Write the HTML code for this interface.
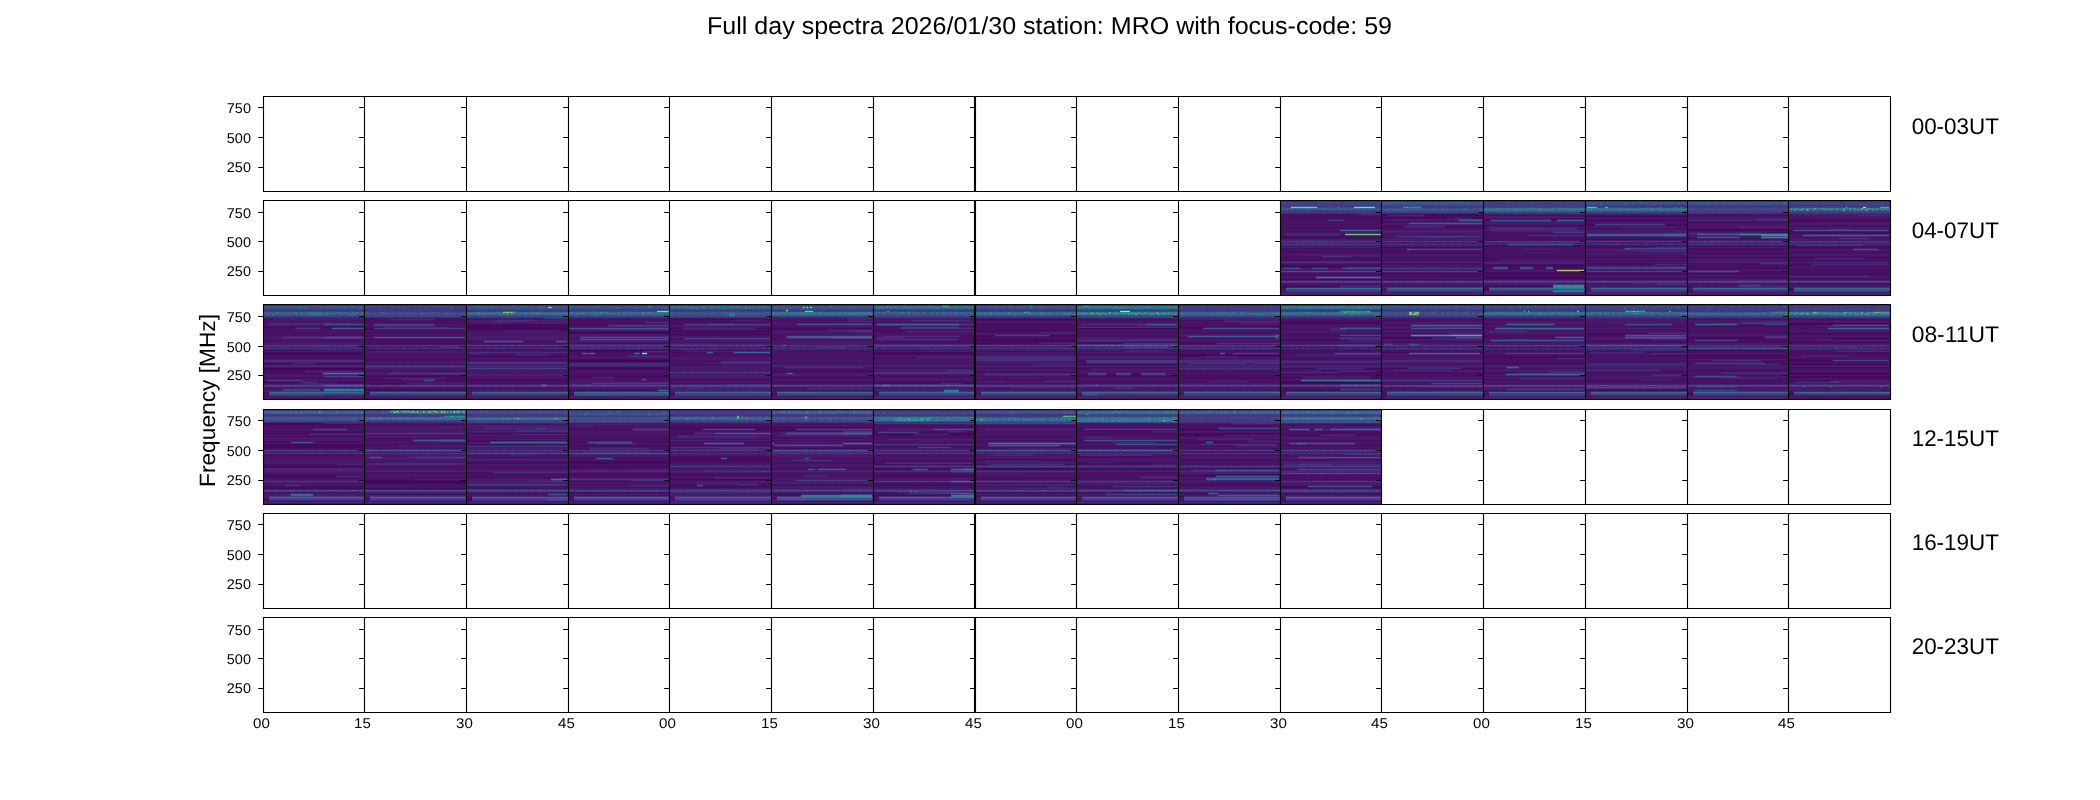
<!DOCTYPE html>
<html><head><meta charset="utf-8"><title>Full day spectra</title>
<style>html,body{margin:0;padding:0;background:#fff;overflow:hidden}svg{display:block;will-change:transform}</style>
</head><body>
<svg width="2100" height="800" viewBox="0 0 2100 800"><rect x="0" y="0" width="2100" height="800" fill="#fff"/><defs><pattern id="p00" width="47" height="1" patternUnits="userSpaceOnUse"><rect x="2" width="2" height="1" fill="#3a538b" fill-opacity="0.94"/><rect x="9" width="1" height="1" fill="#3a538b" fill-opacity="0.62"/><rect x="15" width="1" height="1" fill="#3a538b" fill-opacity="0.90"/><rect x="17" width="2" height="1" fill="#3f4788" fill-opacity="0.62"/><rect x="23" width="1" height="1" fill="#3d4d8a" fill-opacity="0.69"/><rect x="27" width="2" height="1" fill="#3a538b" fill-opacity="1.00"/><rect x="33" width="2" height="1" fill="#3f4788" fill-opacity="0.99"/><rect x="40" width="1" height="1" fill="#424186" fill-opacity="0.79"/><rect x="44" width="1" height="1" fill="#3d4d8a" fill-opacity="0.73"/></pattern><pattern id="p01" width="53" height="1" patternUnits="userSpaceOnUse"><rect x="2" width="3" height="1" fill="#3d4d8a" fill-opacity="0.73"/><rect x="9" width="1" height="1" fill="#3f4788" fill-opacity="0.46"/><rect x="12" width="3" height="1" fill="#3d4d8a" fill-opacity="0.56"/><rect x="19" width="2" height="1" fill="#3f4788" fill-opacity="0.91"/><rect x="22" width="2" height="1" fill="#3d4d8a" fill-opacity="0.93"/><rect x="26" width="3" height="1" fill="#3a538b" fill-opacity="0.80"/><rect x="34" width="2" height="1" fill="#3d4d8a" fill-opacity="0.75"/><rect x="37" width="2" height="1" fill="#3d4d8a" fill-opacity="0.65"/><rect x="44" width="1" height="1" fill="#3f4788" fill-opacity="0.66"/><rect x="46" width="1" height="1" fill="#3d4d8a" fill-opacity="0.90"/><rect x="48" width="2" height="1" fill="#3d4d8a" fill-opacity="0.77"/></pattern><pattern id="p02" width="59" height="1" patternUnits="userSpaceOnUse"><rect x="1" width="2" height="1" fill="#3f4788" fill-opacity="0.82"/><rect x="6" width="2" height="1" fill="#3d4d8a" fill-opacity="0.58"/><rect x="13" width="1" height="1" fill="#3f4788" fill-opacity="0.98"/><rect x="15" width="2" height="1" fill="#3a538b" fill-opacity="0.62"/><rect x="18" width="2" height="1" fill="#3a538b" fill-opacity="0.52"/><rect x="23" width="3" height="1" fill="#3d4d8a" fill-opacity="0.95"/><rect x="28" width="1" height="1" fill="#38598c" fill-opacity="0.56"/><rect x="31" width="2" height="1" fill="#38598c" fill-opacity="0.55"/><rect x="38" width="2" height="1" fill="#3d4d8a" fill-opacity="0.76"/><rect x="45" width="2" height="1" fill="#424186" fill-opacity="0.58"/><rect x="52" width="3" height="1" fill="#3d4d8a" fill-opacity="0.71"/><rect x="58" width="1" height="1" fill="#424186" fill-opacity="0.86"/></pattern><pattern id="p03" width="61" height="1" patternUnits="userSpaceOnUse"><rect x="1" width="3" height="1" fill="#38598c" fill-opacity="0.52"/><rect x="5" width="1" height="1" fill="#3d4d8a" fill-opacity="0.69"/><rect x="10" width="2" height="1" fill="#3d4d8a" fill-opacity="0.64"/><rect x="17" width="1" height="1" fill="#3d4d8a" fill-opacity="0.65"/><rect x="22" width="2" height="1" fill="#3f4788" fill-opacity="0.95"/><rect x="28" width="2" height="1" fill="#3a538b" fill-opacity="0.45"/><rect x="35" width="2" height="1" fill="#3d4d8a" fill-opacity="0.53"/><rect x="42" width="3" height="1" fill="#3a538b" fill-opacity="0.46"/><rect x="50" width="2" height="1" fill="#3a538b" fill-opacity="0.73"/><rect x="56" width="1" height="1" fill="#3d4d8a" fill-opacity="0.56"/><rect x="59" width="1" height="1" fill="#38598c" fill-opacity="0.64"/></pattern><pattern id="p10" width="47" height="1" patternUnits="userSpaceOnUse"><rect x="2" width="2" height="1" fill="#355f8d" fill-opacity="0.64"/><rect x="5" width="3" height="1" fill="#2b748e" fill-opacity="0.69"/><rect x="9" width="2" height="1" fill="#2e6f8e" fill-opacity="0.74"/><rect x="15" width="2" height="1" fill="#32648e" fill-opacity="0.77"/><rect x="22" width="3" height="1" fill="#2e6f8e" fill-opacity="0.68"/><rect x="26" width="1" height="1" fill="#32648e" fill-opacity="0.69"/><rect x="30" width="3" height="1" fill="#2e6f8e" fill-opacity="0.59"/><rect x="37" width="2" height="1" fill="#306a8e" fill-opacity="0.84"/><rect x="44" width="3" height="1" fill="#32648e" fill-opacity="0.63"/></pattern><pattern id="p11" width="53" height="1" patternUnits="userSpaceOnUse"><rect x="0" width="1" height="1" fill="#2e6f8e" fill-opacity="0.57"/><rect x="2" width="3" height="1" fill="#306a8e" fill-opacity="0.51"/><rect x="10" width="3" height="1" fill="#306a8e" fill-opacity="0.78"/><rect x="16" width="1" height="1" fill="#32648e" fill-opacity="0.98"/><rect x="19" width="1" height="1" fill="#355f8d" fill-opacity="0.80"/><rect x="24" width="2" height="1" fill="#306a8e" fill-opacity="0.68"/><rect x="27" width="2" height="1" fill="#38598c" fill-opacity="0.85"/><rect x="34" width="3" height="1" fill="#2e6f8e" fill-opacity="0.89"/><rect x="42" width="3" height="1" fill="#38598c" fill-opacity="0.95"/><rect x="48" width="1" height="1" fill="#355f8d" fill-opacity="0.46"/><rect x="50" width="2" height="1" fill="#32648e" fill-opacity="0.55"/></pattern><pattern id="p12" width="59" height="1" patternUnits="userSpaceOnUse"><rect x="0" width="1" height="1" fill="#355f8d" fill-opacity="0.77"/><rect x="2" width="2" height="1" fill="#355f8d" fill-opacity="0.46"/><rect x="7" width="3" height="1" fill="#2e6f8e" fill-opacity="0.75"/><rect x="13" width="2" height="1" fill="#355f8d" fill-opacity="0.79"/><rect x="19" width="2" height="1" fill="#2e6f8e" fill-opacity="0.47"/><rect x="24" width="3" height="1" fill="#38598c" fill-opacity="0.92"/><rect x="30" width="1" height="1" fill="#38598c" fill-opacity="0.62"/><rect x="33" width="2" height="1" fill="#355f8d" fill-opacity="0.89"/><rect x="39" width="3" height="1" fill="#38598c" fill-opacity="0.89"/><rect x="47" width="2" height="1" fill="#355f8d" fill-opacity="0.94"/><rect x="52" width="2" height="1" fill="#306a8e" fill-opacity="0.80"/><rect x="58" width="1" height="1" fill="#306a8e" fill-opacity="0.81"/></pattern><pattern id="p13" width="61" height="1" patternUnits="userSpaceOnUse"><rect x="2" width="2" height="1" fill="#306a8e" fill-opacity="0.63"/><rect x="9" width="1" height="1" fill="#38598c" fill-opacity="0.94"/><rect x="15" width="1" height="1" fill="#355f8d" fill-opacity="0.81"/><rect x="17" width="1" height="1" fill="#32648e" fill-opacity="0.97"/><rect x="21" width="1" height="1" fill="#306a8e" fill-opacity="0.70"/><rect x="24" width="2" height="1" fill="#38598c" fill-opacity="0.66"/><rect x="27" width="1" height="1" fill="#32648e" fill-opacity="0.91"/><rect x="32" width="1" height="1" fill="#355f8d" fill-opacity="0.75"/><rect x="35" width="2" height="1" fill="#32648e" fill-opacity="0.63"/><rect x="39" width="2" height="1" fill="#306a8e" fill-opacity="0.86"/><rect x="42" width="3" height="1" fill="#306a8e" fill-opacity="0.49"/><rect x="47" width="3" height="1" fill="#38598c" fill-opacity="0.52"/><rect x="51" width="2" height="1" fill="#355f8d" fill-opacity="0.95"/><rect x="54" width="3" height="1" fill="#306a8e" fill-opacity="0.91"/><rect x="59" width="2" height="1" fill="#2e6f8e" fill-opacity="0.69"/></pattern><pattern id="p20" width="47" height="1" patternUnits="userSpaceOnUse"><rect x="2" width="1" height="1" fill="#277e8e" fill-opacity="0.84"/><rect x="7" width="2" height="1" fill="#1f988b" fill-opacity="0.88"/><rect x="14" width="2" height="1" fill="#277e8e" fill-opacity="0.65"/><rect x="18" width="2" height="1" fill="#277e8e" fill-opacity="0.87"/><rect x="22" width="1" height="1" fill="#1f988b" fill-opacity="0.74"/><rect x="27" width="3" height="1" fill="#277e8e" fill-opacity="0.52"/><rect x="31" width="2" height="1" fill="#20928c" fill-opacity="0.80"/><rect x="36" width="3" height="1" fill="#1f988b" fill-opacity="0.97"/><rect x="40" width="2" height="1" fill="#20928c" fill-opacity="0.67"/><rect x="43" width="1" height="1" fill="#1f988b" fill-opacity="0.87"/><rect x="46" width="1" height="1" fill="#23888e" fill-opacity="0.69"/></pattern><pattern id="p21" width="53" height="1" patternUnits="userSpaceOnUse"><rect x="1" width="2" height="1" fill="#218e8d" fill-opacity="0.91"/><rect x="4" width="1" height="1" fill="#20928c" fill-opacity="0.75"/><rect x="7" width="2" height="1" fill="#1e9d89" fill-opacity="0.91"/><rect x="11" width="1" height="1" fill="#1f988b" fill-opacity="0.53"/><rect x="14" width="3" height="1" fill="#20928c" fill-opacity="0.53"/><rect x="22" width="3" height="1" fill="#277e8e" fill-opacity="0.96"/><rect x="30" width="2" height="1" fill="#277e8e" fill-opacity="0.99"/><rect x="33" width="1" height="1" fill="#23888e" fill-opacity="0.77"/><rect x="35" width="3" height="1" fill="#1e9d89" fill-opacity="0.55"/><rect x="42" width="2" height="1" fill="#277e8e" fill-opacity="0.87"/><rect x="46" width="1" height="1" fill="#25838e" fill-opacity="0.47"/><rect x="50" width="1" height="1" fill="#23888e" fill-opacity="0.85"/></pattern><pattern id="p22" width="59" height="1" patternUnits="userSpaceOnUse"><rect x="2" width="1" height="1" fill="#1e9d89" fill-opacity="1.00"/><rect x="5" width="3" height="1" fill="#23888e" fill-opacity="0.59"/><rect x="12" width="1" height="1" fill="#29798e" fill-opacity="0.52"/><rect x="18" width="2" height="1" fill="#277e8e" fill-opacity="0.52"/><rect x="23" width="3" height="1" fill="#277e8e" fill-opacity="0.72"/><rect x="27" width="2" height="1" fill="#218e8d" fill-opacity="0.60"/><rect x="33" width="1" height="1" fill="#20928c" fill-opacity="0.73"/><rect x="37" width="2" height="1" fill="#1f988b" fill-opacity="0.67"/><rect x="40" width="3" height="1" fill="#277e8e" fill-opacity="0.55"/><rect x="45" width="1" height="1" fill="#1e9d89" fill-opacity="0.99"/><rect x="48" width="1" height="1" fill="#25838e" fill-opacity="0.98"/><rect x="53" width="2" height="1" fill="#1e9d89" fill-opacity="0.72"/></pattern><pattern id="p23" width="61" height="1" patternUnits="userSpaceOnUse"><rect x="0" width="2" height="1" fill="#277e8e" fill-opacity="0.78"/><rect x="4" width="2" height="1" fill="#1e9d89" fill-opacity="0.71"/><rect x="8" width="1" height="1" fill="#1f988b" fill-opacity="0.91"/><rect x="13" width="3" height="1" fill="#20928c" fill-opacity="0.92"/><rect x="20" width="3" height="1" fill="#277e8e" fill-opacity="0.62"/><rect x="27" width="1" height="1" fill="#1e9d89" fill-opacity="0.54"/><rect x="32" width="3" height="1" fill="#1e9d89" fill-opacity="0.63"/><rect x="38" width="2" height="1" fill="#277e8e" fill-opacity="0.73"/><rect x="41" width="1" height="1" fill="#1f988b" fill-opacity="0.77"/><rect x="47" width="1" height="1" fill="#20928c" fill-opacity="0.89"/><rect x="50" width="3" height="1" fill="#23888e" fill-opacity="0.97"/><rect x="57" width="1" height="1" fill="#1f988b" fill-opacity="0.83"/></pattern><pattern id="p30" width="47" height="1" patternUnits="userSpaceOnUse"><rect x="2" width="1" height="1" fill="#1fa287" fill-opacity="0.82"/><rect x="4" width="2" height="1" fill="#1e9d89" fill-opacity="0.87"/><rect x="10" width="2" height="1" fill="#5ac864" fill-opacity="0.46"/><rect x="16" width="2" height="1" fill="#3bbb75" fill-opacity="0.67"/><rect x="21" width="2" height="1" fill="#1e9d89" fill-opacity="0.85"/><rect x="28" width="2" height="1" fill="#5ac864" fill-opacity="0.76"/><rect x="34" width="1" height="1" fill="#3bbb75" fill-opacity="0.70"/><rect x="36" width="2" height="1" fill="#32b67a" fill-opacity="0.49"/><rect x="40" width="1" height="1" fill="#50c46a" fill-opacity="0.56"/><rect x="44" width="1" height="1" fill="#44bf70" fill-opacity="0.70"/></pattern><pattern id="p31" width="53" height="1" patternUnits="userSpaceOnUse"><rect x="2" width="1" height="1" fill="#2cb17e" fill-opacity="0.89"/><rect x="6" width="3" height="1" fill="#3bbb75" fill-opacity="0.90"/><rect x="13" width="2" height="1" fill="#32b67a" fill-opacity="0.67"/><rect x="19" width="1" height="1" fill="#25ac82" fill-opacity="0.86"/><rect x="22" width="2" height="1" fill="#2cb17e" fill-opacity="0.87"/><rect x="27" width="1" height="1" fill="#25ac82" fill-opacity="0.90"/><rect x="30" width="1" height="1" fill="#2cb17e" fill-opacity="0.88"/><rect x="36" width="2" height="1" fill="#25ac82" fill-opacity="0.47"/><rect x="42" width="3" height="1" fill="#32b67a" fill-opacity="0.77"/><rect x="50" width="3" height="1" fill="#32b67a" fill-opacity="0.82"/></pattern><pattern id="p32" width="59" height="1" patternUnits="userSpaceOnUse"><rect x="1" width="2" height="1" fill="#22a785" fill-opacity="0.55"/><rect x="7" width="1" height="1" fill="#5ac864" fill-opacity="0.69"/><rect x="11" width="1" height="1" fill="#25ac82" fill-opacity="0.70"/><rect x="14" width="2" height="1" fill="#50c46a" fill-opacity="0.97"/><rect x="21" width="1" height="1" fill="#50c46a" fill-opacity="0.60"/><rect x="24" width="2" height="1" fill="#1e9d89" fill-opacity="0.83"/><rect x="28" width="3" height="1" fill="#2cb17e" fill-opacity="0.62"/><rect x="32" width="1" height="1" fill="#50c46a" fill-opacity="0.68"/><rect x="36" width="3" height="1" fill="#44bf70" fill-opacity="0.71"/><rect x="43" width="2" height="1" fill="#32b67a" fill-opacity="0.66"/><rect x="47" width="1" height="1" fill="#3bbb75" fill-opacity="0.62"/><rect x="53" width="2" height="1" fill="#44bf70" fill-opacity="0.48"/><rect x="58" width="1" height="1" fill="#1e9d89" fill-opacity="0.69"/></pattern><pattern id="p33" width="61" height="1" patternUnits="userSpaceOnUse"><rect x="2" width="2" height="1" fill="#25ac82" fill-opacity="0.80"/><rect x="6" width="1" height="1" fill="#2cb17e" fill-opacity="0.59"/><rect x="11" width="1" height="1" fill="#1fa287" fill-opacity="0.80"/><rect x="15" width="1" height="1" fill="#22a785" fill-opacity="0.61"/><rect x="21" width="1" height="1" fill="#2cb17e" fill-opacity="0.49"/><rect x="24" width="3" height="1" fill="#1fa287" fill-opacity="0.84"/><rect x="31" width="1" height="1" fill="#44bf70" fill-opacity="0.63"/><rect x="33" width="1" height="1" fill="#3bbb75" fill-opacity="0.96"/><rect x="37" width="2" height="1" fill="#44bf70" fill-opacity="0.87"/><rect x="43" width="1" height="1" fill="#2cb17e" fill-opacity="0.59"/><rect x="46" width="1" height="1" fill="#2cb17e" fill-opacity="0.53"/><rect x="50" width="1" height="1" fill="#1fa287" fill-opacity="0.52"/><rect x="55" width="1" height="1" fill="#5ac864" fill-opacity="0.61"/><rect x="57" width="1" height="1" fill="#1fa287" fill-opacity="0.55"/><rect x="59" width="2" height="1" fill="#2cb17e" fill-opacity="0.46"/></pattern><pattern id="p40" width="47" height="1" patternUnits="userSpaceOnUse"><rect x="0" width="1" height="1" fill="#d5e21a" fill-opacity="0.60"/><rect x="4" width="1" height="1" fill="#8ed645" fill-opacity="0.79"/><rect x="10" width="2" height="1" fill="#67cc5c" fill-opacity="0.90"/><rect x="16" width="3" height="1" fill="#c8e020" fill-opacity="0.94"/><rect x="21" width="1" height="1" fill="#b8de29" fill-opacity="0.81"/><rect x="24" width="2" height="1" fill="#f1e51d" fill-opacity="0.57"/><rect x="27" width="3" height="1" fill="#7fd34e" fill-opacity="0.51"/><rect x="32" width="1" height="1" fill="#f1e51d" fill-opacity="0.91"/><rect x="38" width="3" height="1" fill="#c8e020" fill-opacity="0.79"/><rect x="45" width="2" height="1" fill="#f1e51d" fill-opacity="0.76"/></pattern><pattern id="p41" width="53" height="1" patternUnits="userSpaceOnUse"><rect x="1" width="2" height="1" fill="#50c46a" fill-opacity="0.73"/><rect x="5" width="1" height="1" fill="#8ed645" fill-opacity="0.83"/><rect x="10" width="2" height="1" fill="#7fd34e" fill-opacity="0.87"/><rect x="17" width="2" height="1" fill="#67cc5c" fill-opacity="0.52"/><rect x="20" width="1" height="1" fill="#f1e51d" fill-opacity="0.70"/><rect x="23" width="1" height="1" fill="#c8e020" fill-opacity="0.94"/><rect x="26" width="1" height="1" fill="#50c46a" fill-opacity="0.67"/><rect x="32" width="1" height="1" fill="#67cc5c" fill-opacity="0.59"/><rect x="37" width="1" height="1" fill="#73d056" fill-opacity="0.83"/><rect x="42" width="1" height="1" fill="#73d056" fill-opacity="0.97"/><rect x="45" width="2" height="1" fill="#e5e419" fill-opacity="0.52"/><rect x="51" width="2" height="1" fill="#50c46a" fill-opacity="0.73"/></pattern><pattern id="p42" width="59" height="1" patternUnits="userSpaceOnUse"><rect x="1" width="2" height="1" fill="#5ac864" fill-opacity="0.92"/><rect x="4" width="1" height="1" fill="#b8de29" fill-opacity="0.87"/><rect x="10" width="1" height="1" fill="#9bd93c" fill-opacity="0.80"/><rect x="15" width="3" height="1" fill="#d5e21a" fill-opacity="0.61"/><rect x="23" width="2" height="1" fill="#8ed645" fill-opacity="0.86"/><rect x="28" width="2" height="1" fill="#8ed645" fill-opacity="0.83"/><rect x="31" width="1" height="1" fill="#c8e020" fill-opacity="0.98"/><rect x="34" width="1" height="1" fill="#7fd34e" fill-opacity="0.85"/><rect x="40" width="2" height="1" fill="#9bd93c" fill-opacity="0.92"/><rect x="44" width="1" height="1" fill="#5ac864" fill-opacity="0.62"/><rect x="50" width="1" height="1" fill="#67cc5c" fill-opacity="0.60"/><rect x="55" width="1" height="1" fill="#73d056" fill-opacity="0.71"/><rect x="58" width="1" height="1" fill="#73d056" fill-opacity="0.96"/></pattern><pattern id="p43" width="61" height="1" patternUnits="userSpaceOnUse"><rect x="1" width="2" height="1" fill="#5ac864" fill-opacity="0.49"/><rect x="6" width="3" height="1" fill="#d5e21a" fill-opacity="0.71"/><rect x="14" width="1" height="1" fill="#e5e419" fill-opacity="0.78"/><rect x="16" width="3" height="1" fill="#aadc32" fill-opacity="0.45"/><rect x="24" width="1" height="1" fill="#5ac864" fill-opacity="0.87"/><rect x="27" width="1" height="1" fill="#9bd93c" fill-opacity="0.90"/><rect x="30" width="3" height="1" fill="#7fd34e" fill-opacity="0.98"/><rect x="36" width="2" height="1" fill="#67cc5c" fill-opacity="0.67"/><rect x="39" width="1" height="1" fill="#f1e51d" fill-opacity="0.76"/><rect x="41" width="2" height="1" fill="#7fd34e" fill-opacity="0.81"/><rect x="46" width="2" height="1" fill="#b8de29" fill-opacity="0.86"/><rect x="51" width="1" height="1" fill="#67cc5c" fill-opacity="0.75"/><rect x="57" width="2" height="1" fill="#67cc5c" fill-opacity="0.72"/></pattern></defs><g shape-rendering="crispEdges"><g transform="translate(0 .5)" stroke-width="1" fill="none"><path stroke="#440154" d="M1381 217h66M1471 217h13M1687 200h102M1788 231h5M1889 231h2M263 368h102M364 399h103M567 326h2M568 332h102M568 360h102M1177 328h2M1178 355h28M1238 355h43M1788 324h29M364 481h103"/><path stroke="#46085c" d="M1280 200h102M1280 237h102M1280 251h102M1280 265h102M1280 266h66M1280 267h3M1300 267h12M1328 267h14M1280 279h102M1280 286h60M1280 287h6M1381 214h6M1425 214h59M1381 215h6M1425 215h59M1447 217h24M1381 226h23M1445 226h39M1381 247h103M1381 257h103M1482 268h2M1482 269h2M1381 273h103M1381 295h103M1483 219h8M1551 219h6M1584 219h2M1483 225h103M1483 245h25M1573 245h13M1483 259h15M1483 265h103M1483 266h10M1508 266h12M1533 266h13M1553 266h33M1483 268h10M1508 268h12M1533 268h13M1553 268h33M1483 273h103M1483 276h103M1483 277h103M1483 278h103M1483 286h70M1584 286h2M1483 288h6M1483 289h6M1585 216h103M1585 220h103M1585 224h10M1665 224h23M1585 225h10M1665 225h23M1585 239h103M1585 247h40M1585 263h69M1585 264h69M1686 272h2M1585 273h103M1585 279h103M1585 295h103M1687 222h102M1687 229h102M1687 230h102M1687 238h10M1740 238h21M1788 238h1M1687 253h102M1687 257h102M1687 268h102M1687 273h102M1788 220h103M1788 221h103M1788 232h103M1788 247h103M1788 257h26M1866 257h25M1788 264h22M1788 273h103M1788 288h6M263 327h32M320 327h12M364 327h1M263 352h101M263 353h101M263 354h101M263 363h30M316 363h49M263 369h102M263 370h42M263 382h38M338 382h27M263 398h102M263 399h102M364 328h10M465 328h2M364 329h10M465 329h2M364 339h103M364 359h103M364 376h103M364 379h20M445 379h22M364 383h42M364 389h103M364 390h103M364 392h6M364 398h103M466 304h103M466 324h101M466 325h101M466 326h101M466 327h103M466 328h103M466 329h101M466 341h18M523 341h33M567 341h2M466 356h103M466 380h103M568 304h102M568 324h40M669 324h1M568 333h102M568 350h76M568 351h76M568 359h102M568 361h102M568 367h102M568 368h102M568 369h102M568 376h24M614 376h56M568 390h90M669 390h1M568 391h6M669 319h63M762 319h10M669 328h13M756 328h16M669 331h103M669 334h103M669 352h17M770 352h2M669 379h103M771 328h103M771 371h103M873 330h34M873 352h101M873 353h103M873 354h103M873 381h103M873 383h68M962 383h14M873 399h103M975 304h102M975 319h102M975 330h102M975 335h20M1050 335h27M975 336h20M1050 336h27M975 339h101M975 340h101M975 341h101M975 343h64M975 351h102M1076 358h1M1076 328h101M1076 343h47M1076 360h10M1177 360h2M1076 368h15M1076 375h12M1106 375h10M1131 375h10M1166 375h13M1076 376h103M1076 383h5M1178 326h103M1178 327h25M1279 327h2M1178 328h25M1279 328h2M1178 343h39M1178 354h42M1225 354h8M1279 354h2M1206 355h32M1279 368h2M1178 378h103M1280 322h102M1280 323h102M1280 339h60M1280 353h18M1280 368h36M1364 368h18M1376 371h6M1376 372h6M1339 373h43M1280 377h23M1370 377h12M1280 381h21M1280 382h102M1280 383h102M1280 390h60M1381 390h1M1381 304h103M1381 329h30M1482 329h2M1381 337h51M1381 338h51M1381 352h28M1480 352h4M1482 360h2M1482 361h2M1381 368h27M1461 368h23M1381 395h6M1483 341h8M1584 341h2M1483 356h103M1483 357h74M1483 363h103M1483 391h6M1585 304h103M1686 327h2M1686 328h2M1585 334h40M1585 340h65M1585 352h4M1646 352h6M1585 390h103M1687 325h8M1737 325h27M1788 325h1M1687 337h77M1695 338h70M1687 341h8M1737 341h52M1788 349h1M1687 350h102M1687 355h102M1687 357h102M1687 393h6M1788 323h103M1817 324h16M1889 324h2M1803 328h5M1788 334h103M1833 337h56M1833 338h56M1833 339h56M1788 341h29M1788 342h103M1788 359h45M1889 359h2M1788 360h45M1889 360h2M1788 364h103M1788 367h103M1788 372h103M1788 373h103M1788 374h103M1788 376h103M1788 377h103M1788 381h7M1788 394h6M1788 398h103M263 423h60M263 424h102M263 436h102M263 444h101M263 445h101M263 446h101M263 447h101M263 466h102M263 475h73M263 476h73M263 487h102M263 488h102M465 434h2M364 480h51M364 482h103M364 483h103M364 488h103M364 494h103M364 504h103M466 433h51M567 433h2M466 440h34M466 441h24M567 441h2M490 457h40M466 463h103M466 498h6M466 499h6M466 500h6M568 445h102M568 461h102M568 462h102M568 463h102M568 467h102M568 474h102M568 499h6M669 427h103M669 428h34M755 428h17M669 430h34M755 430h17M669 433h25M669 458h52M727 458h45M669 460h103M669 479h103M669 486h28M703 486h69M771 427h103M771 429h25M872 429h2M771 430h25M771 431h10M771 448h103M771 494h30M872 494h2M873 433h5M949 433h27M873 434h41M949 434h27M974 443h2M873 464h12M873 469h40M928 469h23M974 469h2M873 475h103M873 476h103M974 481h2M873 485h103M873 493h25M974 493h2M873 495h78M974 495h2M873 504h103M975 459h102M975 468h102M975 469h102M1076 430h8M1177 430h2M1076 439h8M1177 439h2M1076 457h103M1076 463h13M1113 463h39M1076 469h103M1178 428h40M1279 428h2M1178 429h40M1279 429h2M1178 433h103M1178 434h45M1178 435h45M1178 442h28M1213 442h34M1178 475h38M1279 475h2M1178 485h103M1280 435h40M1356 435h26M1381 474h1M1280 486h28M1372 486h10M1280 487h28M1372 487h10"/><path stroke="#471063" d="M1280 214h79M1280 215h79M1280 216h102M1280 217h102M1280 218h102M1280 219h48M1344 219h38M1280 220h48M1344 220h38M1280 221h48M1344 221h38M1280 222h102M1280 224h102M1280 226h102M1280 227h102M1280 228h102M1280 230h60M1381 230h1M1280 231h60M1381 231h1M1280 233h5M1340 233h5M1381 233h1M1280 234h5M1340 234h5M1381 234h1M1280 235h5M1340 235h5M1381 235h1M1280 236h102M1280 238h102M1280 248h102M1280 249h102M1280 252h102M1280 254h20M1280 256h42M1351 256h4M1280 257h42M1351 257h31M1280 258h102M1280 259h102M1280 260h102M1280 264h102M1346 266h36M1381 270h1M1381 272h1M1280 273h102M1280 274h102M1280 275h102M1280 276h36M1381 276h1M1280 278h36M1381 278h1M1280 284h102M1280 285h60M1280 288h6M1280 289h6M1387 214h38M1381 216h6M1425 216h59M1381 218h66M1471 218h13M1381 219h7M1432 219h15M1381 221h78M1482 221h2M1381 222h28M1482 222h2M1381 225h23M1445 225h39M1381 227h23M1445 227h39M1381 228h103M1381 234h103M1381 237h15M1482 237h2M1381 248h26M1482 248h2M1381 249h26M1482 249h2M1381 250h26M1482 250h2M1381 251h103M1381 252h103M1381 253h103M1381 259h103M1381 260h103M1381 263h103M1381 264h103M1482 267h2M1482 272h2M1381 274h103M1381 275h103M1381 276h103M1381 277h103M1381 279h103M1381 285h103M1483 200h103M1483 215h103M1483 218h103M1483 220h8M1551 220h6M1584 220h2M1483 221h8M1551 221h6M1584 221h2M1483 228h6M1577 228h9M1483 231h7M1483 232h70M1584 232h2M1483 233h70M1584 233h2M1483 234h45M1483 235h45M1483 236h45M1483 237h103M1483 238h103M1483 239h103M1483 240h103M1483 246h103M1483 247h103M1483 248h41M1558 248h28M1483 249h41M1558 249h28M1483 250h103M1483 251h103M1483 253h103M1483 254h103M1483 255h103M1483 256h103M1483 257h103M1483 258h103M1498 259h88M1483 260h15M1483 261h15M1483 264h103M1483 267h10M1508 267h12M1533 267h13M1553 267h33M1483 269h10M1508 269h12M1533 269h13M1553 269h4M1584 269h2M1483 272h103M1483 274h103M1483 275h103M1483 279h103M1483 285h70M1584 285h2M1483 287h6M1483 290h6M1483 295h103M1585 200h103M1585 215h103M1585 217h103M1585 219h103M1585 221h103M1585 223h10M1665 223h23M1585 227h35M1675 227h13M1585 228h35M1675 228h13M1585 229h103M1585 237h103M1585 238h103M1585 245h103M1585 246h71M1585 248h40M1686 248h2M1585 251h33M1585 255h103M1585 256h103M1585 257h103M1585 258h103M1585 260h103M1585 261h103M1654 263h34M1686 269h2M1686 270h2M1686 271h2M1585 274h103M1585 275h103M1585 277h103M1585 278h103M1585 283h47M1585 290h6M1585 294h103M1687 214h102M1687 215h102M1687 217h102M1788 221h1M1687 226h52M1687 228h102M1687 231h102M1687 232h2M1761 232h28M1687 233h2M1788 233h1M1687 237h10M1740 237h21M1788 237h1M1687 239h102M1687 246h102M1687 248h102M1687 249h102M1687 250h102M1687 252h102M1687 263h73M1687 264h73M1687 265h102M1687 266h102M1687 267h102M1739 271h50M1739 272h50M1687 274h102M1687 276h102M1687 277h102M1687 278h102M1687 284h52M1761 284h28M1687 286h52M1687 287h6M1687 290h6M1687 291h6M1687 292h6M1687 294h102M1788 200h103M1788 218h103M1788 219h103M1788 225h103M1788 226h103M1788 229h5M1889 229h2M1788 230h5M1889 230h2M1788 233h103M1788 234h15M1889 234h2M1788 237h51M1870 237h21M1788 245h8M1862 245h29M1788 246h103M1788 248h65M1878 248h13M1788 251h103M1788 252h103M1788 253h103M1788 256h103M1814 257h52M1788 258h26M1866 258h25M1788 259h26M1866 259h25M1788 260h103M1788 261h103M1788 263h22M1788 265h22M1788 266h103M1788 268h103M1788 269h103M1788 270h103M1788 271h103M1788 272h103M1788 274h103M1788 275h103M1788 278h103M1788 279h103M1788 283h103M1788 284h103M1788 287h6M1788 289h6M1788 290h6M1788 291h6M263 304h102M263 318h11M263 319h11M263 321h102M263 323h5M364 323h1M263 325h5M320 325h4M364 325h1M263 326h102M263 328h32M320 328h12M364 328h1M263 329h32M320 329h12M364 329h1M263 330h102M263 332h102M263 333h102M263 334h102M263 335h102M263 340h102M263 341h102M263 350h47M263 355h102M263 357h102M263 358h102M364 359h1M364 360h1M364 361h1M263 364h30M316 364h49M263 367h102M305 370h60M263 371h42M263 372h42M263 373h60M364 373h1M263 374h60M364 374h1M263 377h61M364 377h1M263 378h102M263 381h5M318 381h47M318 382h20M263 383h38M338 383h27M263 388h20M320 388h4M364 388h1M263 392h6M263 395h6M263 396h6M364 318h26M435 318h32M364 319h26M435 319h32M364 320h26M435 320h32M364 321h103M364 322h103M364 323h10M434 323h33M364 326h10M434 326h33M364 327h10M465 327h2M364 330h103M364 331h103M364 332h103M364 333h103M364 335h103M364 336h10M465 336h2M364 340h103M364 341h103M364 342h103M364 343h103M364 344h103M364 349h103M364 350h103M364 354h103M364 356h103M364 358h103M364 360h103M364 364h103M364 370h103M364 371h30M431 371h36M364 375h103M364 377h20M445 377h22M364 378h20M445 378h22M384 379h18M436 379h9M364 380h38M436 380h31M364 381h60M434 381h33M364 382h42M364 384h42M364 388h103M364 391h6M364 393h6M364 395h6M364 396h6M466 319h32M537 319h7M567 325h2M567 329h2M466 330h39M557 330h12M466 331h39M557 331h12M466 343h103M466 349h103M466 350h103M466 354h4M485 354h32M550 354h19M466 355h51M550 355h19M466 357h103M466 359h103M466 360h103M567 362h2M567 363h2M567 367h2M567 369h2M466 376h103M466 378h103M466 379h103M466 381h103M466 382h103M466 383h103M466 388h103M466 389h103M466 391h6M466 396h6M466 398h103M466 399h103M568 319h102M568 320h102M568 321h78M568 322h78M568 323h78M568 325h40M568 326h40M669 327h1M568 331h102M568 339h12M568 342h102M568 343h102M568 349h102M644 350h26M568 352h14M587 352h1M595 352h39M640 352h2M568 353h14M587 353h1M595 353h39M640 353h2M647 353h23M568 354h14M587 354h1M595 354h39M640 354h2M647 354h23M568 355h59M669 364h1M568 372h102M568 374h102M568 375h102M592 376h22M568 377h24M614 377h56M568 378h24M614 378h28M646 378h24M568 380h74M646 380h24M568 389h90M669 389h1M568 392h6M568 393h6M568 394h6M568 395h6M568 398h102M568 399h102M669 304h103M669 318h103M732 319h30M669 320h63M762 320h10M669 321h103M669 322h103M669 323h15M770 323h2M669 324h15M770 324h2M669 327h13M756 327h16M669 329h13M756 329h16M669 330h103M669 332h103M669 333h103M669 335h103M669 338h15M770 338h2M669 339h15M770 339h2M669 342h103M669 350h17M707 350h65M669 351h17M770 351h2M686 352h21M713 352h21M669 353h38M713 353h21M770 353h2M669 354h103M669 355h103M669 356h103M669 360h103M669 361h52M770 361h2M669 363h40M770 363h2M669 364h52M770 364h2M669 365h103M669 380h103M669 382h103M669 383h103M669 393h6M669 394h6M669 395h6M771 318h76M771 320h76M771 322h76M870 322h4M872 323h2M771 325h26M872 325h2M771 327h103M771 329h58M771 330h58M771 333h103M771 335h16M872 335h2M771 337h16M872 337h2M771 338h16M872 338h2M771 340h103M771 351h103M771 353h103M771 355h103M771 356h103M771 357h103M771 359h103M771 362h103M771 363h103M771 367h13M863 367h11M771 368h13M863 368h11M771 369h103M771 370h103M771 372h16M793 372h81M771 376h103M771 377h103M771 378h103M771 381h103M771 382h103M771 383h103M771 387h38M771 388h38M771 390h103M771 391h6M771 393h6M771 394h6M771 395h6M771 399h103M873 304h103M873 319h39M969 319h7M873 322h103M873 326h28M959 326h17M873 327h28M873 328h28M873 329h28M907 330h69M873 331h34M873 332h34M873 333h103M873 335h10M960 335h16M873 336h4M960 336h16M873 337h4M960 337h16M873 338h4M958 338h18M873 339h4M958 339h18M873 340h4M958 340h18M873 341h103M873 342h103M873 343h103M873 350h52M873 357h44M873 358h44M873 362h103M873 363h103M873 367h103M873 368h103M974 372h2M974 373h2M974 374h2M873 375h103M873 376h103M873 377h103M873 382h103M873 391h6M873 392h6M975 318h102M975 320h102M975 323h102M975 324h102M975 325h102M975 326h102M975 327h102M975 328h102M975 329h102M975 331h102M975 332h65M975 337h102M975 338h102M1076 339h1M1076 340h1M975 342h64M975 354h102M1076 356h1M1076 357h1M975 364h58M975 365h58M975 367h102M975 368h102M975 371h102M975 372h102M975 376h102M975 378h102M975 379h102M975 380h69M975 383h102M975 388h36M975 389h102M975 392h6M975 393h6M975 394h6M975 398h102M975 399h102M1076 319h103M1076 320h103M1076 321h103M1076 324h5M1076 325h5M1076 329h103M1076 331h103M1076 332h103M1076 333h103M1076 335h103M1076 336h103M1177 341h2M1076 342h47M1076 351h50M1164 351h15M1076 353h103M1076 354h103M1076 355h103M1076 359h10M1177 359h2M1076 361h10M1177 361h2M1076 362h10M1177 362h2M1076 363h10M1177 363h2M1076 364h103M1076 365h103M1076 367h103M1091 368h88M1076 369h15M1076 370h103M1076 373h12M1106 373h10M1131 373h10M1166 373h13M1076 374h12M1106 374h10M1131 374h10M1166 374h13M1076 377h103M1076 378h103M1076 380h103M1076 381h103M1076 382h103M1081 383h98M1076 388h38M1132 388h47M1076 390h103M1076 394h6M1076 395h6M1076 398h103M1076 399h103M1178 320h46M1178 321h46M1178 323h62M1178 324h103M1178 330h103M1178 332h103M1178 333h103M1178 337h10M1279 337h2M1178 338h97M1279 338h2M1178 341h103M1178 342h39M1178 344h39M1178 350h103M1178 351h103M1178 352h42M1225 352h8M1279 352h2M1178 353h42M1225 353h8M1279 353h2M1178 356h28M1238 356h43M1279 359h2M1279 369h2M1178 371h103M1178 372h103M1178 374h103M1178 375h103M1178 376h103M1178 377h103M1178 380h32M1247 380h34M1178 382h32M1247 382h34M1178 390h103M1178 399h103M1280 320h102M1280 321h102M1280 325h102M1280 329h50M1381 329h1M1280 333h102M1280 334h60M1381 334h1M1280 335h60M1381 335h1M1280 336h60M1381 336h1M1381 339h1M1280 340h70M1280 341h70M1280 343h102M1280 347h102M1280 349h102M1280 350h102M1280 351h102M1280 352h55M1381 352h1M1298 353h37M1381 353h1M1280 355h18M1280 357h102M1280 358h102M1280 359h102M1381 362h1M1280 363h102M1280 369h36M1364 369h18M1280 370h25M1321 370h17M1376 370h6M1280 371h25M1321 371h17M1339 372h37M1280 373h59M1280 374h102M1280 375h102M1280 376h23M1370 376h12M1280 378h23M1370 378h12M1280 380h21M1381 381h1M1280 388h60M1381 388h1M1280 389h60M1381 389h1M1280 391h6M1280 392h6M1280 393h6M1280 394h6M1280 395h6M1280 399h102M1381 319h103M1381 320h103M1381 321h52M1476 321h8M1381 324h30M1482 324h2M1381 325h30M1482 325h2M1381 332h67M1381 333h67M1381 334h30M1482 334h2M1381 336h30M1482 336h2M1432 337h24M1482 337h2M1381 341h103M1381 342h103M1381 351h103M1381 353h28M1480 353h4M1381 356h103M1482 362h2M1381 364h103M1381 369h27M1461 369h23M1381 370h12M1451 370h6M1381 372h103M1381 373h103M1381 374h103M1381 375h103M1381 376h103M1381 378h103M1482 379h2M1482 381h2M1381 383h50M1482 383h2M1381 384h50M1482 384h2M1381 388h103M1381 389h103M1381 391h6M1381 392h6M1381 393h6M1381 394h6M1381 396h6M1483 304h103M1483 319h103M1483 320h103M1483 322h22M1483 323h22M1483 324h23M1554 324h32M1483 327h12M1584 327h2M1483 328h12M1483 331h6M1527 331h59M1483 334h103M1483 335h103M1483 336h72M1584 336h2M1483 337h72M1584 337h2M1483 338h26M1526 338h29M1584 338h2M1483 347h103M1483 351h103M1483 353h22M1584 353h2M1483 354h22M1584 354h2M1483 355h103M1557 357h29M1483 358h74M1483 359h74M1483 360h103M1483 361h103M1483 362h103M1483 364h103M1483 367h23M1519 367h67M1483 368h23M1519 368h67M1483 372h35M1483 373h23M1483 374h23M1483 376h103M1483 379h37M1483 380h103M1483 382h103M1483 390h23M1584 390h2M1483 392h6M1483 394h6M1483 395h6M1483 399h103M1585 324h40M1672 324h16M1585 325h40M1672 325h16M1585 327h101M1585 329h103M1585 330h103M1585 332h63M1585 333h63M1686 334h2M1585 335h40M1686 335h2M1585 336h40M1686 336h2M1650 340h38M1585 341h103M1585 342h103M1585 351h46M1646 351h42M1652 352h36M1585 355h103M1585 356h103M1585 357h103M1585 359h103M1585 360h103M1585 361h103M1686 363h2M1585 370h1M1661 370h27M1585 371h1M1661 371h27M1585 372h103M1585 373h103M1585 375h67M1681 375h7M1585 379h53M1673 379h15M1585 380h53M1673 380h15M1585 381h103M1585 382h103M1585 389h103M1585 391h6M1585 395h6M1585 396h6M1687 304h102M1687 319h102M1687 323h8M1687 324h8M1764 325h24M1687 326h102M1687 327h102M1687 328h102M1687 330h102M1687 331h102M1687 332h102M1687 333h102M1687 336h77M1788 337h1M1687 338h8M1788 338h1M1687 339h8M1737 339h52M1687 340h8M1737 340h52M1687 342h102M1687 351h102M1687 352h102M1687 354h102M1687 356h102M1687 358h102M1687 360h25M1761 360h28M1687 361h25M1761 361h28M1687 362h8M1765 362h24M1687 363h8M1765 363h24M1687 364h8M1780 364h9M1687 365h102M1687 369h102M1687 370h102M1687 371h102M1687 374h36M1687 375h8M1737 375h52M1687 378h34M1777 378h12M1687 379h102M1687 380h102M1687 381h102M1687 382h102M1687 383h102M1687 392h6M1687 394h6M1687 395h6M1687 399h102M1788 304h103M1788 319h103M1788 320h103M1788 322h103M1788 325h29M1788 326h29M1788 327h40M1889 327h2M1788 329h40M1889 329h2M1788 332h103M1788 333h103M1788 337h45M1788 338h45M1788 340h29M1817 341h74M1788 343h103M1788 351h48M1788 352h103M1788 353h103M1788 354h103M1788 355h13M1849 355h42M1788 356h13M1849 356h42M1788 358h103M1788 361h45M1889 361h2M1788 362h103M1788 363h103M1788 368h103M1788 369h103M1788 378h25M1832 378h59M1788 379h103M1788 380h42M1795 381h35M1788 382h7M1788 391h6M1788 392h6M1788 393h6M1788 395h6M1788 396h103M263 425h102M263 426h102M263 427h102M263 428h50M347 428h18M263 430h50M347 430h18M263 431h102M263 432h102M263 433h46M263 434h46M263 441h28M313 441h52M263 442h28M313 442h52M364 445h1M263 448h102M263 454h102M263 455h102M263 456h102M263 458h102M263 464h75M263 465h102M263 467h102M364 468h1M263 473h102M336 475h29M263 477h73M263 478h102M263 485h22M300 485h65M263 486h22M300 486h65M263 492h102M263 498h6M263 499h6M263 500h6M263 503h102M263 504h102M364 409h103M364 424h103M364 425h103M465 433h2M364 438h103M364 439h47M364 440h47M364 443h103M364 444h103M364 445h33M466 445h1M364 446h33M466 446h1M364 448h103M364 462h11M462 462h5M364 466h103M364 468h103M364 472h103M364 473h103M364 477h103M364 478h103M364 479h51M415 480h52M364 485h103M364 487h103M364 498h6M364 499h6M364 500h6M567 423h2M466 424h103M517 433h50M466 436h103M466 438h103M500 440h69M466 444h103M567 454h2M466 455h43M535 455h34M466 457h24M530 457h39M466 461h103M466 462h103M466 466h103M466 467h103M466 468h103M466 472h28M466 473h28M466 474h103M466 475h103M466 476h103M466 477h103M466 478h85M567 478h2M567 483h2M466 487h103M466 488h103M466 493h82M567 493h2M466 494h82M567 494h2M466 496h6M466 497h6M466 504h103M568 409h102M568 426h5M593 426h77M568 428h65M669 428h1M568 429h65M669 429h1M568 430h65M669 430h1M568 436h102M568 437h102M568 438h102M568 439h102M568 440h102M568 441h20M632 441h38M568 442h20M635 442h35M568 443h20M635 443h35M568 446h102M568 447h22M649 447h21M568 448h22M649 448h21M669 452h1M568 457h28M613 457h57M568 458h28M613 458h57M568 460h102M568 464h102M568 465h102M568 466h102M568 468h102M568 473h102M568 475h102M568 476h102M568 477h102M568 481h63M568 482h102M568 484h63M568 485h63M568 487h102M568 492h102M568 493h102M568 495h102M568 496h6M568 497h6M568 504h102M669 409h103M669 424h103M669 425h103M669 426h103M669 429h34M755 429h17M669 432h25M669 434h25M669 439h103M669 441h103M669 442h35M744 442h28M669 443h35M744 443h28M669 444h35M744 444h28M669 445h103M669 446h42M770 446h2M669 456h103M669 457h52M727 457h45M669 459h52M727 459h45M669 461h103M669 462h103M669 463h103M770 465h2M770 466h2M770 467h2M669 473h103M669 474h103M669 475h103M669 476h103M669 478h46M669 480h103M669 483h27M758 483h14M669 484h27M758 484h14M669 485h28M703 485h36M758 485h14M669 487h103M669 497h6M771 424h103M771 426h103M771 428h25M872 428h2M872 430h2M781 431h62M771 432h10M771 435h6M868 435h6M771 436h6M868 436h6M771 437h103M771 438h103M771 440h103M774 442h18M828 442h15M872 442h2M872 444h2M771 445h3M843 445h31M771 446h3M843 446h31M771 447h103M771 458h34M809 458h65M771 462h103M771 463h103M771 467h103M771 468h37M815 468h3M846 468h28M771 469h37M815 469h3M846 469h28M771 473h103M771 475h32M828 475h46M771 476h32M828 476h46M771 484h103M771 485h103M771 493h103M771 495h30M872 495h2M771 497h6M771 498h6M771 501h103M771 503h103M974 423h2M974 424h2M873 425h103M873 426h103M873 427h103M873 430h17M974 430h2M873 431h5M918 431h29M966 431h10M873 432h5M918 432h29M966 432h10M918 433h31M873 435h103M873 436h103M873 437h103M873 439h13M873 442h103M974 444h2M873 446h45M951 446h25M873 447h45M951 447h25M873 455h103M873 456h103M873 459h103M873 460h103M873 461h103M873 462h12M873 463h12M885 464h91M974 466h2M974 467h2M873 468h40M928 468h23M974 468h2M873 473h103M873 474h103M873 477h103M974 480h2M873 483h103M873 484h103M873 487h103M898 493h11M873 494h36M974 494h2M873 496h6M873 499h6M873 500h6M975 425h102M975 426h102M975 427h102M975 429h10M1076 429h1M975 432h102M975 435h102M975 437h102M975 440h102M975 441h102M975 442h13M975 443h13M975 446h14M1060 446h17M975 447h102M975 448h32M975 460h11M1041 460h36M975 464h15M1064 464h13M1076 465h1M1076 466h1M975 473h2M1025 473h52M975 474h2M1025 474h52M975 476h102M975 477h102M975 478h102M975 479h102M1076 480h1M1076 481h1M1076 482h1M975 483h102M975 486h72M1063 486h14M975 492h102M975 493h102M975 495h102M975 496h6M975 497h6M975 500h6M975 501h102M975 503h102M975 504h102M1076 424h103M1076 425h103M1076 427h103M1076 428h8M1177 428h2M1076 429h8M1177 429h2M1084 430h68M1076 431h76M1076 432h76M1076 433h103M1076 434h103M1076 435h103M1076 437h8M1110 437h69M1076 440h8M1177 440h2M1076 441h8M1177 441h2M1076 442h36M1157 442h22M1076 443h36M1177 443h2M1076 445h40M1177 445h2M1076 446h103M1076 447h103M1076 448h103M1076 455h4M1152 455h27M1076 456h103M1076 462h13M1113 462h66M1089 463h24M1152 463h27M1076 464h76M1076 468h103M1076 472h103M1076 473h103M1076 474h103M1076 476h63M1076 477h63M1076 478h63M1076 479h103M1076 485h37M1076 486h37M1076 487h37M1076 488h103M1076 492h103M1076 493h30M1177 493h2M1076 496h6M1076 498h6M1076 499h6M1076 500h6M1076 504h103M1178 409h103M1178 424h54M1178 425h103M1178 426h103M1178 430h103M1223 434h58M1178 436h45M1178 439h19M1253 439h28M1178 440h69M1178 441h28M1213 441h34M1247 442h34M1178 443h23M1275 443h6M1178 444h23M1277 444h4M1178 446h58M1277 446h4M1178 448h103M1178 452h103M1178 455h103M1178 459h103M1178 460h103M1178 461h103M1178 463h103M1178 464h103M1178 468h103M1178 469h15M1279 469h2M1178 474h103M1178 476h38M1279 476h2M1178 479h28M1279 479h2M1178 483h103M1178 484h103M1178 492h30M1218 492h63M1178 493h30M1178 494h30M1178 496h6M1178 497h6M1178 500h6M1178 501h6M1280 409h102M1381 423h1M1280 424h102M1280 425h102M1280 428h9M1310 428h4M1280 429h9M1310 429h4M1280 431h102M1280 432h102M1280 433h102M1280 434h40M1356 434h26M1280 440h102M1280 441h102M1280 443h9M1355 443h27M1280 444h9M1355 444h27M1280 445h102M1280 446h102M1280 448h102M1280 455h65M1280 456h18M1381 456h1M1280 459h102M1280 460h102M1381 466h1M1381 467h1M1280 468h18M1381 468h1M1280 469h18M1381 469h1M1280 475h102M1280 476h102M1280 477h102M1280 478h102M1280 479h102M1381 480h1M1381 481h1M1280 488h102M1280 493h102M1280 494h102M1280 497h6M1280 498h6M1280 499h6M1280 500h6M1280 501h102M1280 504h102"/><path stroke="#48186a" d="M1359 215h23M1328 219h16M1328 221h16M1280 223h102M1280 225h102M1280 229h60M1381 229h1M1280 232h102M1285 233h55M1285 235h55M1280 239h102M1280 247h102M1280 250h102M1280 253h102M1300 254h82M1280 255h20M1322 257h29M1280 263h102M1283 267h17M1312 267h16M1342 267h4M1280 268h3M1300 268h12M1328 268h14M1280 269h3M1300 269h12M1328 269h14M1381 269h1M1381 271h1M1280 277h36M1381 277h1M1280 280h102M1280 283h102M1340 285h42M1280 290h6M1280 291h6M1280 292h6M1280 294h102M1280 295h102M1381 200h103M1387 216h38M1388 219h44M1447 219h8M1381 220h7M1432 220h27M1482 220h2M1381 223h28M1482 223h2M1381 224h28M1482 224h2M1404 225h41M1404 227h41M1381 229h103M1381 230h54M1463 230h21M1482 231h2M1381 232h54M1463 232h21M1381 233h103M1381 235h15M1482 235h2M1381 236h15M1482 236h2M1396 237h23M1462 237h20M1381 238h103M1381 240h103M1381 243h103M1381 245h103M1381 246h103M1411 250h71M1381 254h103M1381 255h103M1381 256h103M1381 258h103M1381 261h103M1381 265h103M1381 266h103M1381 269h101M1482 270h2M1381 272h60M1381 278h103M1381 280h103M1381 283h103M1381 284h103M1381 286h103M1381 288h6M1381 289h6M1381 290h6M1483 214h103M1483 216h103M1483 223h103M1483 224h103M1483 226h103M1483 227h6M1577 227h9M1483 229h6M1578 229h8M1483 230h7M1490 231h59M1553 233h31M1528 234h58M1528 236h58M1483 243h25M1573 243h13M1524 248h34M1483 252h103M1498 261h88M1493 266h15M1520 266h13M1546 266h7M1483 270h74M1584 270h2M1483 271h74M1584 271h2M1483 283h103M1483 284h70M1584 284h2M1483 294h103M1585 214h103M1585 218h103M1585 222h103M1595 225h70M1585 226h103M1620 228h55M1585 231h103M1585 232h103M1585 233h2M1585 234h2M1585 235h2M1585 236h2M1686 236h2M1656 246h32M1630 247h26M1585 250h33M1618 251h23M1585 252h103M1585 253h103M1585 254h103M1585 259h103M1585 265h103M1686 266h2M1686 267h2M1686 268h2M1585 269h101M1585 272h101M1585 284h73M1585 285h103M1585 286h103M1585 287h6M1585 288h6M1585 289h6M1585 291h6M1687 216h102M1687 219h69M1788 220h1M1687 221h101M1687 223h102M1687 224h102M1687 225h102M1739 226h50M1687 227h52M1689 232h72M1687 234h2M1788 234h1M1687 235h10M1788 235h1M1687 236h10M1740 236h21M1788 236h1M1687 245h102M1687 247h102M1687 251h102M1687 254h102M1687 255h102M1687 256h102M1687 258h102M1687 259h102M1687 260h102M1687 261h102M1760 264h29M1687 269h102M1739 270h50M1687 275h102M1687 279h102M1687 283h102M1687 285h52M1687 288h6M1687 289h6M1693 292h96M1687 295h102M1788 215h70M1788 216h103M1788 217h103M1788 222h103M1788 223h33M1788 224h103M1788 227h103M1788 228h103M1793 231h96M1788 235h15M1889 235h2M1788 236h15M1889 236h2M1839 237h31M1788 238h51M1870 238h21M1788 239h5M1812 239h27M1870 239h21M1788 240h103M1788 249h65M1878 249h13M1788 250h65M1878 250h13M1788 254h103M1788 255h103M1814 259h52M1810 263h81M1810 265h81M1788 267h103M1788 276h1M1869 276h22M1788 277h1M1869 277h22M1788 285h103M1788 286h103M1788 292h6M274 318h91M263 320h102M263 322h6M349 322h16M268 323h1M263 324h5M320 324h4M364 324h1M268 325h52M295 327h25M295 329h25M263 331h102M263 336h20M364 336h1M263 337h20M364 337h1M263 338h20M364 338h1M263 339h102M263 342h102M263 343h102M263 349h102M263 351h102M364 352h1M364 354h1M263 356h102M263 359h101M263 362h30M316 362h49M293 364h23M305 372h18M364 372h1M263 375h61M364 375h1M263 376h61M364 376h1M263 379h5M303 379h62M263 380h5M303 380h62M303 381h15M301 383h5M283 388h37M263 389h20M320 389h4M364 389h1M263 390h20M320 390h4M364 390h1M263 393h6M263 394h6M269 396h96M364 304h103M390 318h45M390 320h45M364 324h10M434 324h33M364 325h10M434 325h33M374 326h10M374 327h10M450 327h15M374 329h91M364 334h103M364 337h10M465 337h2M364 338h10M465 338h2M364 347h76M364 352h103M364 353h103M364 355h103M364 357h103M364 361h103M364 362h103M364 363h103M465 367h2M364 368h103M364 369h103M364 372h25M465 372h2M364 374h25M465 374h2M384 377h61M402 380h22M434 380h2M406 382h61M406 384h61M364 387h103M364 394h6M370 396h97M466 318h78M498 319h39M544 319h25M466 322h26M510 322h59M466 323h26M510 323h20M505 331h52M466 332h103M466 333h103M466 334h103M466 335h103M466 336h103M466 338h103M466 339h103M466 340h18M523 340h33M567 340h2M466 342h18M523 342h33M567 342h2M466 344h103M466 347h103M466 351h103M567 352h2M466 353h4M485 353h32M550 353h19M470 354h15M517 355h33M466 358h103M466 361h103M466 364h103M567 368h2M466 370h103M466 371h103M466 372h103M466 373h103M466 377h103M466 387h103M466 390h103M466 392h6M466 393h6M466 394h6M466 395h6M472 396h97M568 318h102M646 321h24M646 323h24M608 324h61M669 325h1M669 328h1M568 330h102M568 334h102M568 335h102M568 336h12M568 337h12M669 337h1M568 338h12M669 338h1M568 340h12M647 352h23M627 355h43M568 356h59M568 357h102M568 358h102M568 362h102M669 363h1M568 370h102M568 371h102M568 373h102M592 378h22M568 379h74M646 379h24M568 382h25M669 382h1M568 383h25M669 383h1M568 387h102M568 388h102M568 396h102M684 323h25M735 323h35M669 325h15M770 325h2M669 326h103M682 327h74M682 329h74M669 336h103M669 337h15M770 337h2M669 340h103M669 341h103M669 343h4M715 343h57M669 347h103M669 349h9M707 349h65M686 350h21M669 357h103M669 358h103M669 359h103M669 362h52M770 362h2M721 364h49M669 367h103M669 368h103M669 369h103M669 370h103M770 371h2M770 372h2M770 373h2M669 374h103M669 376h103M669 377h103M669 378h103M669 381h103M669 389h103M669 391h6M669 392h6M669 398h103M669 399h103M771 304h103M771 319h76M847 320h27M771 321h76M847 322h23M771 324h26M872 324h2M771 326h103M829 329h45M771 334h103M771 336h16M872 336h2M771 339h103M771 341h103M771 342h103M771 343h103M771 344h12M785 344h89M771 349h103M771 350h103M771 352h103M771 354h103M771 358h103M771 360h103M771 361h103M771 364h103M771 365h103M784 368h79M771 374h16M793 374h81M771 379h103M771 380h103M809 387h65M771 389h38M771 392h6M771 396h103M771 398h103M873 318h103M912 319h57M873 320h39M969 320h7M873 321h39M969 321h7M873 323h4M974 323h2M873 324h4M974 324h2M873 325h4M974 325h2M959 327h17M901 329h75M907 332h69M873 334h103M883 335h77M877 336h6M903 337h57M923 338h35M877 340h81M974 344h2M873 349h103M925 350h51M873 351h52M974 352h2M873 355h103M873 356h44M917 358h59M873 359h103M873 360h103M873 361h103M873 364h103M873 365h103M873 370h74M873 374h101M873 378h103M873 379h103M873 380h103M974 384h2M873 387h103M873 388h103M873 389h71M959 389h17M873 393h6M873 394h6M873 395h6M873 396h6M975 321h102M975 322h102M975 333h102M975 334h20M1050 334h27M995 336h55M1076 341h1M1039 342h38M975 344h102M975 349h102M975 350h102M975 352h102M975 353h102M975 355h102M1076 359h1M1076 360h1M1076 361h1M975 362h102M975 363h102M1033 365h44M975 370h102M975 373h10M1076 373h1M975 374h10M1076 374h1M975 375h10M1076 375h1M975 377h102M1044 380h33M975 381h69M975 382h12M1003 382h74M1011 388h66M975 390h102M975 391h6M975 395h6M1076 304h103M1076 318h103M1076 322h103M1076 323h70M1177 323h2M1177 324h2M1081 325h56M1076 326h103M1177 327h2M1076 330h103M1076 334h103M1076 337h103M1076 338h53M1076 341h7M1123 341h54M1123 342h56M1076 349h103M1076 350h103M1076 352h103M1076 358h103M1086 359h91M1086 363h91M1076 371h103M1076 372h12M1106 372h10M1131 372h10M1166 372h13M1088 375h18M1116 375h15M1141 375h25M1076 379h103M1076 384h5M1076 389h103M1076 391h6M1076 392h6M1076 393h6M1076 396h103M1178 304h103M1224 320h57M1178 322h62M1178 325h103M1178 329h25M1279 329h2M1178 331h103M1178 334h97M1279 334h2M1178 336h10M1279 336h2M1178 339h103M1178 340h103M1217 342h64M1217 344h64M1233 352h46M1233 354h46M1178 357h103M1178 358h103M1178 359h101M1279 360h2M1279 361h2M1279 362h2M1178 363h11M1246 363h8M1178 364h11M1246 364h8M1279 367h2M1178 369h101M1178 370h63M1178 373h103M1178 379h103M1210 380h37M1178 381h32M1247 381h34M1210 382h37M1178 383h103M1178 387h103M1178 388h103M1178 389h103M1178 391h6M1178 392h6M1178 393h6M1178 394h6M1178 396h6M1178 398h103M1280 318h102M1280 319h102M1280 324h102M1280 326h102M1280 327h60M1381 327h1M1280 328h50M1381 328h1M1280 330h50M1347 330h35M1280 331h102M1280 332h102M1340 336h41M1280 337h60M1381 337h1M1280 338h60M1381 338h1M1340 339h10M1350 341h32M1280 342h102M1280 354h18M1298 355h84M1280 356h102M1381 360h1M1381 361h1M1280 364h102M1280 365h102M1280 367h36M1364 367h18M1316 369h48M1338 370h38M1305 371h16M1303 376h67M1303 378h67M1280 379h21M1381 379h1M1280 387h102M1340 388h41M1340 390h41M1280 396h102M1280 398h102M1381 318h103M1381 322h52M1476 322h8M1381 323h103M1381 326h30M1482 326h2M1381 328h30M1482 328h2M1411 329h71M1381 330h103M1448 332h36M1381 335h30M1482 335h2M1381 339h51M1381 340h103M1381 343h3M1393 343h16M1419 343h65M1381 347h103M1381 350h103M1381 354h28M1480 354h4M1381 355h103M1381 357h103M1381 358h103M1381 359h34M1466 359h18M1381 362h101M1381 363h103M1381 365h103M1381 367h27M1461 367h23M1408 369h53M1457 370h27M1381 371h76M1381 377h103M1482 380h2M1381 381h101M1381 382h50M1482 382h2M1381 387h32M1381 390h103M1387 396h97M1381 398h103M1381 399h103M1483 318h103M1483 321h103M1505 322h81M1483 325h23M1554 325h32M1483 326h103M1584 328h2M1483 329h12M1483 330h17M1527 330h59M1483 332h6M1527 332h59M1483 333h103M1509 338h17M1483 339h8M1584 339h2M1483 342h103M1483 343h103M1483 344h103M1483 349h103M1483 350h103M1483 352h22M1584 352h2M1505 354h79M1557 359h29M1483 365h103M1483 369h103M1483 371h67M1518 372h32M1584 374h2M1483 377h103M1483 378h37M1520 379h66M1483 381h103M1483 383h103M1483 384h103M1483 388h23M1483 389h23M1584 389h2M1506 390h78M1483 393h6M1483 396h6M1483 398h103M1585 319h103M1585 320h103M1585 321h18M1653 321h35M1585 322h103M1585 323h40M1672 323h16M1585 326h103M1585 331h103M1648 332h40M1585 337h40M1686 337h2M1585 339h65M1585 343h103M1585 350h46M1631 351h15M1585 353h67M1585 354h103M1585 358h103M1585 362h103M1585 363h101M1686 364h2M1585 365h103M1585 367h103M1585 368h103M1585 369h1M1661 369h27M1586 371h75M1585 374h67M1681 374h7M1585 376h67M1681 376h7M1585 377h103M1585 378h103M1638 379h35M1585 383h103M1686 387h2M1686 388h2M1585 392h6M1585 393h6M1585 394h6M1591 396h97M1585 398h103M1585 399h103M1687 318h102M1687 320h102M1687 321h55M1687 322h55M1737 324h27M1788 324h1M1687 329h102M1687 334h102M1687 335h78M1764 336h1M1765 338h23M1695 341h42M1687 343h102M1687 344h102M1687 353h102M1687 359h25M1761 359h28M1712 361h49M1687 367h102M1687 368h102M1687 372h34M1687 373h36M1723 374h66M1687 376h8M1737 376h52M1687 377h8M1777 377h12M1687 387h8M1737 387h52M1687 388h102M1687 389h8M1737 389h52M1687 390h8M1737 390h52M1687 391h6M1687 396h102M1687 398h102M1788 318h103M1833 324h56M1817 326h16M1889 326h2M1788 328h15M1808 328h20M1889 328h2M1788 330h103M1788 331h103M1788 335h103M1788 336h103M1889 337h2M1788 339h45M1788 344h103M1788 350h48M1801 356h48M1788 357h103M1833 359h56M1833 361h56M1788 365h103M1788 370h103M1788 371h103M1788 375h103M1830 380h61M1839 382h52M1788 383h103M1788 387h16M1805 387h25M1831 387h50M1882 387h9M1788 388h103M1788 389h103M1788 390h103M1788 399h103M263 409h102M263 429h50M347 429h18M309 433h56M263 435h102M263 437h102M263 438h102M263 439h102M263 440h102M263 443h28M313 443h51M364 446h1M364 447h1M263 449h102M263 457h102M263 459h102M263 460h102M263 462h102M263 463h102M263 468h101M364 469h1M263 470h102M263 472h102M263 474h102M336 477h29M263 479h102M364 480h1M364 481h1M317 482h48M263 483h102M263 484h22M300 484h65M285 486h15M263 489h102M263 493h28M313 493h52M263 494h28M313 494h52M263 497h6M263 501h102M364 423h103M364 426h103M364 427h75M462 427h5M364 428h103M364 429h103M364 430h103M364 431h103M465 432h2M364 434h101M364 435h103M364 436h103M364 437h103M411 439h3M465 439h2M364 441h50M465 441h2M364 442h103M397 446h69M364 447h103M364 452h103M364 455h103M364 456h5M382 456h26M364 457h5M382 457h26M364 459h103M364 460h103M364 461h103M375 462h87M364 463h3M364 464h2M364 465h103M364 467h103M364 469h103M364 470h103M364 474h103M364 475h103M364 476h103M364 484h103M364 486h103M364 489h103M364 493h103M364 497h6M364 501h103M364 503h103M466 427h18M466 428h18M466 429h18M466 430h51M466 432h103M466 434h51M567 434h2M466 435h103M466 437h103M466 439h34M466 442h24M567 442h2M466 443h24M567 443h2M466 445h66M567 445h2M466 447h103M567 452h2M509 455h26M466 456h103M466 458h103M466 464h103M466 465h103M466 469h103M494 473h75M466 480h62M466 481h62M466 483h101M466 486h103M466 492h103M466 495h82M567 495h2M466 501h6M466 503h103M568 423h102M568 424h102M568 425h5M593 425h77M573 426h20M568 427h102M568 431h102M568 432h102M568 433h102M568 434h102M568 435h102M632 442h3M568 444h27M635 444h35M590 447h59M568 449h22M649 449h21M669 454h1M568 455h102M568 456h102M568 459h28M613 459h57M568 469h17M611 469h16M568 472h102M669 478h1M568 480h63M631 481h39M568 483h102M631 484h39M568 486h63M568 488h102M568 489h102M568 494h102M568 498h6M568 500h6M568 501h6M568 503h102M669 423h103M703 428h52M703 430h52M669 431h103M694 432h21M770 432h2M694 434h21M770 434h2M669 435h103M669 436h8M758 436h14M669 437h8M758 437h14M669 438h103M711 446h59M669 448h42M770 448h2M669 452h103M669 454h103M669 455h103M669 464h103M669 467h101M669 468h103M669 469h103M669 470h35M770 470h2M669 472h35M770 472h2M669 477h46M715 478h57M669 481h103M739 483h19M696 484h1M703 484h36M739 485h19M669 488h103M669 494h103M669 495h103M669 496h6M669 498h6M669 499h6M669 500h6M669 501h6M771 409h103M771 423h103M771 425h103M796 428h76M796 430h47M771 433h10M771 434h15M872 434h2M777 436h91M771 439h103M771 441h103M774 443h69M872 443h2M872 449h2M771 455h103M771 456h103M771 457h34M809 457h65M771 459h22M832 459h42M771 460h22M832 460h42M771 461h103M771 464h103M771 465h103M771 466h103M771 470h37M815 470h3M846 470h28M771 472h103M771 474h103M803 475h25M771 477h103M771 478h103M771 479h25M872 479h2M771 480h25M872 480h2M771 481h25M872 481h2M771 486h103M771 488h75M771 492h103M771 496h6M771 499h6M771 504h103M873 409h103M873 424h101M873 428h60M974 428h2M873 429h17M974 429h2M890 430h43M947 432h19M878 433h36M873 438h103M873 440h103M873 441h103M873 443h101M974 445h2M873 448h45M951 448h25M873 449h103M873 454h103M873 457h103M873 458h103M885 462h91M974 465h2M873 467h53M941 467h33M873 472h78M974 472h2M873 478h103M873 479h103M974 482h2M873 486h103M873 488h103M873 492h25M974 492h2M909 494h42M873 497h6M873 498h6M873 501h103M975 409h102M1076 423h1M1076 424h1M975 428h102M975 430h102M975 431h102M975 433h102M975 434h102M975 436h102M975 438h102M975 439h102M1076 442h1M975 444h13M1076 444h1M975 445h14M1060 445h17M1076 449h1M975 454h15M1034 454h43M975 455h15M1034 455h43M975 456h102M975 457h102M975 458h102M986 460h55M975 461h11M1041 461h36M975 462h102M975 463h15M1064 463h13M1076 467h1M1076 470h1M1076 472h1M977 474h48M975 475h102M975 484h41M1047 486h16M975 487h72M1063 487h14M975 488h38M975 489h102M975 494h102M975 498h6M975 499h6M1076 409h103M1076 423h103M1076 426h103M1152 430h25M1152 432h27M1076 436h103M1076 438h103M1112 443h4M1076 444h40M1177 444h2M1076 452h103M1076 458h103M1076 459h103M1076 460h103M1076 461h103M1177 466h2M1177 467h2M1076 470h103M1076 475h103M1139 476h40M1139 478h40M1177 480h2M1177 481h2M1076 484h103M1113 485h66M1113 487h66M1076 494h30M1177 494h2M1076 495h30M1177 495h2M1076 497h6M1076 501h6M1076 503h103M1178 423h54M1232 424h49M1178 427h40M1279 427h2M1218 429h61M1178 431h103M1178 432h103M1223 436h58M1178 437h103M1247 440h34M1201 443h5M1213 443h62M1275 444h2M1178 445h58M1277 445h4M1236 446h41M1178 447h103M1178 449h72M1267 449h14M1178 454h103M1178 456h103M1178 457h103M1178 458h103M1178 462h103M1279 465h2M1279 466h2M1279 467h2M1193 469h23M1178 470h15M1279 470h2M1178 473h103M1178 477h28M1279 477h2M1178 478h28M1279 478h2M1178 480h28M1279 480h2M1178 481h103M1178 482h103M1178 486h103M1178 487h103M1178 488h103M1218 493h63M1178 495h40M1279 495h2M1178 498h6M1178 499h6M1184 501h97M1178 503h103M1178 504h103M1280 426h102M1280 427h102M1322 428h8M1381 429h1M1280 430h9M1310 430h4M1381 430h1M1320 434h36M1280 436h102M1280 437h102M1280 438h9M1330 438h52M1280 439h102M1280 442h9M1355 442h27M1280 447h102M1280 454h65M1345 455h37M1280 457h18M1381 457h1M1280 458h18M1381 458h1M1280 461h102M1280 463h4M1332 463h50M1280 464h4M1332 464h7M1381 472h1M1381 473h1M1280 474h101M1280 480h101M1381 482h1M1280 483h102M1280 484h102M1280 485h28M1372 485h10M1308 487h64M1280 495h102M1280 496h6M1280 503h102"/><path stroke="#481f70" d="M1340 231h41M1280 240h17M1325 240h57M1280 243h17M1340 243h42M1280 245h102M1280 246h102M1300 255h22M1351 255h4M1355 256h27M1381 268h1M1283 269h17M1312 269h16M1342 269h39M1280 270h101M1280 272h101M1286 287h54M1286 292h96M1447 218h8M1388 220h44M1435 230h28M1435 232h28M1396 235h86M1381 239h103M1381 242h103M1411 248h71M1381 267h101M1381 270h60M1441 272h41M1381 287h6M1381 291h6M1381 292h103M1381 294h103M1483 217h103M1491 219h60M1557 219h27M1483 222h103M1489 227h88M1489 229h1M1577 229h1M1578 230h8M1584 231h2M1508 245h65M1524 249h34M1498 260h88M1483 263h103M1493 269h15M1520 269h13M1546 269h7M1483 291h6M1483 292h70M1584 292h2M1595 223h70M1620 227h55M1585 230h103M1686 233h2M1686 235h2M1585 240h103M1585 242h103M1585 243h103M1625 247h5M1585 249h40M1686 249h2M1585 262h103M1585 266h101M1585 270h101M1585 276h103M1585 280h103M1585 292h103M1687 218h69M1689 234h8M1697 238h43M1687 240h102M1687 243h102M1687 262h73M1687 272h52M1687 280h52M1788 280h1M1739 284h22M1761 285h28M1788 214h103M1821 223h70M1793 229h37M1850 229h39M1793 239h19M1839 239h31M1788 243h103M1853 248h25M1814 258h52M1789 277h80M1788 280h103M1889 291h2M1794 292h97M1788 293h103M1788 294h103M1788 295h103M274 319h91M269 322h80M349 323h15M324 325h40M332 327h32M332 329h32M283 336h41M283 338h41M263 344h102M263 347h102M310 350h55M293 362h23M263 365h102M324 375h40M324 377h40M268 379h35M268 381h35M318 383h20M263 384h43M364 384h1M263 387h102M263 391h6M323 395h42M374 323h60M384 326h50M374 336h91M364 346h76M364 351h103M465 365h2M394 371h37M389 372h76M364 373h25M465 373h2M389 374h76M384 378h18M436 378h9M424 381h10M406 383h61M364 397h103M466 320h32M537 320h32M466 321h26M537 321h32M492 323h18M562 323h5M567 324h2M505 330h52M466 337h103M466 346h103M517 353h33M466 365h103M466 367h101M466 369h101M466 374h103M466 375h103M466 384h75M546 384h23M466 397h103M608 326h9M669 326h1M568 327h101M568 329h28M669 336h1M669 340h1M568 341h102M568 363h101M568 365h102M568 381h102M593 382h76M568 384h5M669 384h1M568 397h102M732 320h30M684 337h86M684 339h86M673 343h42M686 351h21M713 351h21M709 363h12M669 366h103M669 371h101M669 373h101M669 375h103M669 384h55M770 387h2M669 388h18M704 388h68M669 390h103M669 396h103M847 319h27M782 323h15M870 323h2M797 325h75M771 331h79M771 332h103M787 335h85M771 347h44M845 347h29M771 373h16M793 373h81M771 375h103M771 384h103M809 389h65M771 397h103M912 321h57M959 323h15M959 325h15M901 326h58M877 338h46M873 347h103M925 351h49M917 356h59M873 369h103M873 371h74M974 371h2M873 390h71M959 390h17M879 396h97M873 398h103M995 334h55M975 347h102M975 361h101M975 369h102M985 373h15M1026 373h50M985 375h91M975 384h102M975 387h36M975 396h102M1129 338h50M1076 339h53M1177 339h2M1177 340h2M1083 341h40M1076 347h48M1168 347h11M1076 356h103M1076 357h103M1088 372h18M1116 372h15M1141 372h25M1076 387h38M1132 387h47M1178 318h103M1178 319h103M1240 322h41M1240 323h41M1203 327h76M1203 329h76M1178 335h10M1279 335h2M1178 347h103M1178 349h103M1220 354h5M1206 356h32M1189 364h57M1254 364h27M1178 365h103M1178 367h101M1241 370h40M1178 395h6M1184 396h97M1280 304h102M1330 328h10M1347 329h34M1330 330h17M1340 334h41M1340 337h41M1350 339h31M1280 344h58M1375 344h7M1335 352h46M1280 360h101M1316 367h48M1305 370h16M1303 377h67M1280 384h60M1381 384h1M1433 321h43M1433 322h43M1381 327h30M1482 327h2M1381 331h103M1432 339h52M1381 344h3M1393 344h16M1419 344h65M1381 349h103M1409 352h71M1415 359h51M1408 367h53M1381 379h101M1431 382h51M1431 384h51M1381 397h103M1505 323h1M1554 323h32M1500 330h27M1489 332h38M1483 340h8M1584 340h2M1491 341h93M1505 352h79M1483 370h103M1550 371h36M1483 375h23M1584 375h2M1483 387h103M1506 388h13M1584 388h2M1489 391h97M1489 396h97M1585 318h103M1603 321h50M1625 323h47M1625 325h47M1585 328h101M1625 334h61M1585 338h40M1686 338h2M1686 344h2M1585 347h103M1585 349h46M1585 366h103M1586 369h75M1652 374h29M1652 376h29M1638 380h35M1585 384h103M1585 397h103M1742 321h47M1695 325h42M1765 335h24M1695 339h42M1788 347h1M1687 349h101M1712 359h49M1695 362h70M1695 364h42M1687 366h102M1721 372h2M1695 375h42M1737 377h40M1687 384h102M1695 387h42M1695 389h42M1788 321h103M1817 325h16M1889 325h2M1833 326h56M1889 339h2M1817 340h74M1788 347h46M1857 347h34M1788 349h103M1836 350h55M1788 366h103M1813 378h19M1794 395h97M1788 397h103M313 428h34M313 430h34M291 441h22M364 443h1M263 452h102M263 461h102M263 480h101M263 482h54M285 484h15M263 495h28M313 495h52M263 496h6M269 500h96M364 432h101M397 445h69M465 449h2M364 454h103M408 456h8M465 456h2M364 458h5M382 458h34M465 458h2M460 464h7M364 492h103M364 495h103M364 496h6M466 423h101M466 425h103M466 426h103M484 427h52M546 427h23M484 429h52M546 429h23M500 439h69M532 445h35M466 448h103M466 449h103M466 454h43M535 454h32M466 459h103M466 460h103M466 470h103M466 471h28M466 479h85M567 479h2M528 480h23M567 480h2M466 482h103M567 485h2M548 493h19M472 501h97M466 502h103M633 428h36M633 430h36M588 443h7M595 444h40M590 449h59M568 451h14M649 451h21M596 457h17M568 470h102M568 478h101M631 486h39M574 501h96M568 502h102M677 437h81M669 440h103M711 448h8M767 448h3M669 449h20M757 449h15M669 451h103M721 457h6M721 459h6M669 465h101M704 470h60M766 470h4M704 472h60M766 472h4M669 482h103M697 486h6M669 489h103M669 493h103M675 501h97M669 503h103M843 430h29M781 433h5M872 433h2M792 442h36M774 446h69M771 454h103M793 459h12M809 459h23M796 479h76M796 481h76M771 482h103M771 483h103M771 487h103M771 500h6M872 500h2M933 430h14M962 430h12M878 431h40M914 433h4M914 439h62M873 445h101M918 446h33M918 448h33M873 452h103M873 465h53M941 465h33M926 467h15M913 468h15M873 470h40M928 470h23M974 470h2M873 480h78M873 482h78M873 489h103M873 503h103M975 424h101M1007 448h70M975 452h102M990 454h44M990 463h74M975 465h15M1064 465h12M975 467h101M975 470h101M975 472h101M977 473h48M975 480h101M975 482h101M975 485h102M975 502h102M1084 428h93M1152 431h27M1084 439h93M1084 441h93M1157 443h20M1116 445h61M1177 449h2M1076 454h4M1152 454h27M1089 462h24M1152 464h27M1076 465h76M1177 465h2M1076 467h101M1076 471h103M1076 480h101M1177 482h2M1076 483h103M1106 493h71M1106 495h71M1082 501h97M1223 435h58M1178 438h103M1178 451h103M1178 465h101M1178 467h101M1235 469h44M1178 472h103M1216 475h63M1279 494h2M1280 423h101M1322 430h8M1289 438h41M1289 444h8M1306 444h49M1280 449h102M1280 452h102M1298 456h83M1280 462h102M1284 463h48M1280 465h4M1280 467h101M1298 468h83M1280 470h18M1381 470h1M1280 482h101M1280 489h25M1306 489h76M1280 492h102"/><path stroke="#482677" d="M1280 213h79M1359 214h23M1340 229h41M1280 242h17M1340 242h42M1322 255h29M1355 255h27M1280 261h102M1340 287h42M1280 293h102M1381 213h103M1387 215h38M1455 218h16M1455 219h4M1482 219h2M1459 221h23M1409 222h73M1409 224h73M1381 231h101M1381 244h103M1407 248h4M1407 250h4M1381 262h103M1441 270h41M1482 271h2M1381 293h103M1483 201h103M1491 221h60M1557 221h27M1490 229h87M1490 230h88M1549 231h4M1578 231h6M1508 243h65M1483 244h25M1573 244h13M1483 262h103M1483 280h103M1489 291h64M1584 291h2M1587 233h50M1587 236h78M1585 244h103M1686 247h2M1630 249h56M1618 250h70M1641 251h47M1654 264h34M1632 283h56M1585 293h103M1756 218h33M1687 220h101M1697 235h43M1697 236h43M1760 262h29M1687 270h52M1761 286h28M1693 287h46M1693 291h96M1687 293h102M1858 215h33M1803 234h86M1803 236h86M1788 244h8M1862 244h29M1853 250h25M1788 262h103M1810 264h81M263 317h102M269 323h55M364 353h1M293 363h23M305 371h60M306 383h12M306 384h17M263 397h102M364 305h103M364 317h103M390 319h45M374 338h91M440 346h27M364 348h103M364 365h101M465 366h2M364 367h101M402 378h34M402 379h22M434 379h2M370 391h97M370 395h97M492 321h45M492 322h18M530 323h32M567 323h2M484 340h39M556 340h11M484 342h39M556 342h11M466 348h103M470 353h15M517 354h33M466 366h103M472 391h97M472 395h97M568 317h102M617 326h52M669 329h1M580 336h67M669 339h1M580 340h89M568 344h102M568 347h102M644 351h26M582 352h5M588 352h7M634 352h6M582 354h5M588 354h7M634 354h6M568 366h102M592 377h22M642 378h4M642 380h4M593 384h76M658 389h11M574 391h84M669 391h1M669 395h1M709 323h26M684 325h25M735 325h35M682 328h74M669 344h4M715 344h57M669 346h103M669 348h103M678 349h29M748 351h22M707 353h6M734 353h36M669 387h18M704 387h66M669 397h103M771 317h103M847 318h27M771 323h11M829 330h21M787 338h44M771 346h12M785 346h30M845 346h29M771 348h44M845 348h29M771 366h13M863 366h11M784 367h79M787 372h6M777 391h97M777 395h97M873 344h101M873 348h103M974 351h2M917 357h59M873 366h103M947 371h27M941 383h21M1040 332h37M1039 343h38M975 346h102M1033 364h44M1000 373h26M987 382h16M981 395h96M975 397h102M1146 323h31M1129 339h48M1177 346h2M1126 351h38M1076 366h103M1091 369h88M1081 384h15M1098 384h81M1114 387h18M1082 395h1M1098 395h81M1076 397h103M1178 305h103M1188 337h87M1275 338h4M1220 352h5M1178 366h103M1210 381h37M1178 384h103M1178 397h103M1340 327h41M1350 340h32M1280 346h58M1375 346h7M1280 348h102M1298 354h37M1381 354h1M1280 366h102M1316 368h48M1339 371h37M1381 380h1M1301 381h40M1286 391h96M1286 395h96M1280 397h102M1381 317h103M1411 324h71M1448 333h36M1432 338h24M1482 338h2M1384 343h9M1409 343h10M1381 346h103M1381 366h103M1457 371h27M1413 387h71M1483 305h103M1483 317h103M1506 325h48M1495 327h89M1584 329h2M1555 336h29M1555 338h29M1491 339h18M1526 339h58M1483 346h103M1483 348h103M1483 366h23M1519 366h67M1506 368h13M1506 373h12M1519 388h65M1483 397h103M1686 346h2M1631 349h57M1631 350h57M1589 352h57M1585 388h101M1591 391h97M1591 395h97M1687 305h102M1695 323h22M1737 323h5M1788 336h1M1687 346h102M1788 348h1M1723 372h66M1723 373h66M1695 377h42M1721 378h56M1693 395h96M1687 397h102M1788 305h103M1828 327h61M1828 329h61M1889 338h2M1788 346h46M1857 346h34M1788 348h46M1857 348h34M1836 351h55M1801 355h48M1839 381h52M1788 384h103M1794 391h97M263 422h102M323 423h42M291 443h22M364 444h1M263 451h102M338 464h27M263 471h102M336 476h29M263 502h102M364 422h103M439 427h23M414 439h25M411 440h3M465 440h2M414 441h25M465 451h2M369 456h13M416 456h49M416 458h49M367 463h8M460 463h7M366 464h9M364 471h103M415 479h52M370 500h97M364 502h103M466 409h103M536 427h10M536 429h10M466 431h51M517 434h50M490 441h77M466 451h103M466 452h101M567 453h2M494 471h75M567 484h2M466 485h101M466 489h103M548 495h19M472 496h97M573 425h20M588 441h44M582 451h67M568 452h14M649 452h20M568 454h101M596 459h17M585 469h26M627 469h43M669 479h1M669 480h1M631 485h39M574 500h96M715 432h55M715 434h55M704 442h40M704 444h40M770 447h2M757 448h10M689 449h30M669 453h103M669 471h35M770 471h2M696 483h43M697 484h6M669 492h103M669 502h103M669 504h103M781 432h5M777 435h91M771 442h3M843 442h29M774 444h69M771 449h35M807 449h65M771 452h103M805 457h4M808 468h7M818 468h28M808 470h7M818 470h28M771 471h103M846 488h28M771 489h103M801 494h40M771 502h103M933 428h41M890 429h43M947 430h15M947 431h19M914 434h35M886 439h28M873 451h103M926 465h15M951 468h12M951 472h23M951 480h23M898 492h11M969 492h5M879 496h72M974 496h2M879 500h97M873 502h103M989 446h71M975 449h101M1076 451h1M975 453h102M990 455h44M986 461h55M990 465h74M1016 484h61M1047 487h16M1013 488h64M981 496h96M981 500h96M1116 443h41M1177 451h2M1076 453h103M1080 454h72M1152 465h25M1076 482h101M1076 489h48M1177 489h2M1082 496h97M1082 500h97M1076 502h103M1218 427h61M1197 439h56M1206 441h7M1275 445h2M1250 449h17M1216 469h19M1178 471h15M1279 471h2M1206 477h10M1206 480h8M1216 480h63M1178 489h103M1208 492h10M1208 494h1M1184 496h34M1279 496h2M1178 502h103M1381 422h1M1289 428h21M1314 428h8M1330 428h11M1381 428h1M1322 429h8M1320 435h36M1289 442h8M1306 442h49M1280 451h102M1280 453h65M1298 458h83M1339 464h43M1284 465h15M1381 465h1M1298 470h83M1280 472h101M1308 485h64M1286 500h96M1280 502h102"/><path stroke="#472d7b" d="M1280 201h102M1359 213h23M1297 240h28M1297 242h43M1297 243h43M1280 262h102M1381 267h1M1316 276h65M1316 278h65M1340 286h42M1286 291h96M1381 201h103M1404 226h41M1419 237h43M1381 241h103M1387 291h97M1483 213h103M1489 228h88M1553 231h25M1528 235h58M1483 242h103M1489 287h64M1584 287h2M1483 293h103M1585 201h103M1585 213h103M1637 233h28M1686 234h2M1656 247h30M1658 284h30M1591 287h97M1591 291h97M1687 201h102M1687 213h102M1756 219h33M1739 227h50M1689 233h8M1761 238h27M1687 242h102M1687 244h102M1760 263h29M1739 280h49M1739 286h22M1739 287h50M1788 201h103M1788 213h103M1839 238h31M1788 242h103M1796 244h66M1796 245h66M1789 276h80M1794 287h97M1794 291h95M263 305h102M324 323h25M268 324h52M324 336h40M324 338h40M263 346h102M263 348h102M263 360h101M263 361h101M263 366h102M323 374h41M301 382h17M324 388h40M269 395h54M384 327h66M440 347h27M364 386h103M466 305h103M466 317h78M498 320h39M466 352h101M568 305h80M652 305h18M646 322h24M596 329h73M647 336h22M580 338h89M568 346h102M568 348h102M627 356h43M573 384h20M568 386h5M593 386h77M669 305h103M669 317h103M709 325h26M673 344h42M707 351h6M734 351h14M721 361h49M721 362h49M721 363h49M669 372h101M724 384h48M687 387h17M687 388h17M675 391h97M675 395h97M771 305h103M847 321h27M797 323h34M850 330h24M831 338h41M771 345h12M785 345h89M815 346h30M815 348h30M784 366h79M787 374h6M809 388h65M873 305h70M949 305h27M873 317h103M912 320h57M877 323h82M877 325h82M959 328h17M907 331h69M883 336h77M974 346h2M873 384h11M886 384h1M889 384h52M962 384h12M879 391h65M959 391h17M879 395h97M873 397h103M975 305h55M1033 305h44M975 317h102M975 348h102M975 356h101M975 357h101M975 358h101M975 359h101M975 360h101M975 366h102M1044 381h33M1011 387h66M981 391h96M1081 324h65M1137 325h9M1177 325h2M1076 327h101M1123 343h56M1177 344h2M1076 348h103M1114 388h18M1178 317h103M1224 321h57M1275 334h4M1188 335h87M1217 343h64M1178 346h103M1178 348h103M1178 360h101M1178 361h101M1178 362h101M1189 363h57M1254 363h27M1178 368h101M1178 386h103M1184 395h97M1280 317h102M1330 329h10M1338 344h37M1335 354h46M1280 361h101M1280 362h101M1338 371h1M1280 372h59M1301 379h40M1341 381h40M1381 305h103M1411 326h71M1411 327h71M1381 348h103M1409 354h71M1381 360h101M1381 361h101M1408 368h53M1393 370h58M1387 391h97M1387 395h97M1506 323h48M1495 329h5M1489 331h38M1557 358h29M1584 373h2M1506 375h78M1520 378h66M1489 395h97M1585 305h103M1585 317h103M1648 333h40M1625 338h25M1650 339h38M1585 344h101M1652 353h36M1586 370h75M1652 375h29M1686 386h2M1687 317h102M1742 323h47M1765 336h23M1687 347h101M1712 360h49M1737 364h43M1687 386h8M1737 386h52M1693 391h2M1737 391h52M1834 346h23M1834 347h23M1834 348h23M1830 381h9M1795 382h35M309 434h56M263 453h102M285 485h15M291 493h22M364 410h26M465 410h2M364 449h101M364 453h103M408 457h8M465 457h2M369 458h13M375 463h85M375 464h85M567 422h2M484 428h52M546 428h23M517 430h52M517 431h52M490 443h77M567 446h2M509 454h26M494 472h75M551 478h16M528 481h41M472 500h76M567 500h2M568 410h102M669 422h1M632 443h3M590 448h59M669 453h1M568 471h102M631 480h38M568 491h102M574 496h96M669 410h103M669 422h103M694 433h21M770 433h2M677 436h81M719 448h38M719 449h38M764 470h2M764 472h2M715 477h57M739 484h19M675 496h97M675 500h97M771 410h48M820 410h33M854 410h20M771 422h103M872 432h2M786 434h57M771 444h3M843 444h29M872 451h2M771 453h103M805 459h4M793 460h39M803 476h25M771 491h103M777 496h24M872 496h2M777 500h95M873 410h103M873 422h103M873 453h103M885 463h91M913 470h15M873 471h78M974 471h2M951 482h23M873 491h25M960 491h16M909 492h2M912 492h4M917 492h34M960 492h9M909 493h42M1076 422h1M985 429h91M988 442h3M1076 443h1M988 444h1M990 464h74M1076 471h1M1084 437h26M1112 442h45M1080 455h72M1139 477h40M1113 486h66M1178 422h54M1232 423h49M1247 441h34M1206 443h7M1201 444h74M1236 445h39M1178 453h103M1193 470h23M1193 471h23M1178 491h103M1209 494h70M1279 500h2M1289 430h21M1314 430h8M1330 430h51M1345 453h37M1345 454h37M1284 464h15M1299 465h82M1280 471h102M1286 496h96"/><path stroke="#463480" d="M1280 210h101M1280 211h101M1285 234h55M1280 241h17M1325 241h57M1280 244h102M1322 256h29M1346 267h35M1280 282h102M1459 219h23M1381 282h103M1387 287h97M1483 241h103M1483 282h103M1553 284h31M1553 292h31M1585 205h103M1585 206h2M1597 206h8M1608 206h52M1661 206h14M1676 206h5M1682 206h6M1665 236h21M1585 241h103M1625 249h5M1585 282h103M1687 206h102M1761 233h27M1740 235h21M1687 282h52M1788 282h1M1788 205h103M1830 229h20M1788 241h103M1788 282h103M263 310h102M263 345h102M323 372h41M268 380h35M323 384h41M263 386h60M364 386h1M269 391h55M364 391h1M364 308h103M364 309h103M364 310h103M364 311h103M364 345h103M424 379h10M466 310h103M544 317h25M544 318h25M466 345h103M466 362h101M466 363h101M466 386h75M546 386h23M568 309h102M568 364h101M573 386h20M658 391h11M574 395h95M669 310h103M770 386h2M771 310h15M788 310h17M813 310h61M831 323h39M850 331h24M783 344h2M815 347h30M771 386h103M959 324h15M901 328h58M877 337h26M877 339h81M974 345h2M873 346h101M947 370h29M873 372h101M873 373h101M941 384h21M974 386h2M944 389h15M975 309h102M975 310h102M975 311h49M1030 311h47M975 386h102M1076 317h103M1146 325h31M1076 340h101M1076 344h47M1076 346h48M1168 346h9M1076 386h20M1098 386h81M1082 391h97M1083 395h15M1178 310h103M1178 345h103M1184 391h97M1280 305h102M1280 310h60M1370 310h12M1338 346h37M1341 379h40M1340 384h41M1280 386h60M1381 386h1M1381 310h103M1411 334h37M1456 338h26M1381 345h3M1393 345h16M1419 345h65M1381 386h32M1483 309h103M1500 329h84M1509 339h17M1483 345h103M1506 366h13M1550 372h36M1483 386h103M1585 310h40M1645 310h24M1671 310h17M1625 336h61M1650 338h36M1585 346h101M1585 348h103M1585 364h101M1585 386h101M1687 310h102M1742 322h47M1717 323h20M1687 345h102M1695 391h42M1788 307h103M1788 310h103M1788 317h103M1788 345h103M1830 382h9M1788 386h16M1805 386h25M1831 386h50M1882 386h9M263 410h102M263 415h102M263 450h102M263 469h101M263 481h101M263 491h102M269 496h22M313 496h52M364 415h80M465 415h2M439 439h26M364 451h101M370 496h97M466 410h103M466 446h101M466 450h103M551 480h16M466 491h103M669 415h1M568 450h102M582 452h67M568 479h101M669 414h103M669 415h68M739 415h33M669 447h101M669 450h103M704 471h60M766 471h4M669 491h103M771 415h103M843 431h31M786 432h57M873 423h101M873 444h101M873 450h103M951 470h12M898 491h13M912 491h4M917 491h43M951 492h9M975 410h102M975 414h102M975 415h88M1076 415h1M991 442h85M1060 444h16M1076 450h1M975 451h101M975 471h101M975 491h102M1076 410h103M1177 422h2M1076 449h101M1177 450h2M1076 451h101M1076 481h101M1124 489h53M1076 491h48M1177 491h2M1178 410h103M1178 419h103M1232 422h49M1178 450h72M1267 450h14M1216 471h63M1216 477h63M1218 496h61M1184 500h95M1280 410h102M1341 428h40M1297 444h9M1299 464h33"/><path stroke="#443a83" d="M1280 202h102M1280 203h102M1280 204h102M1280 205h102M1280 206h11M1317 206h21M1339 206h15M1375 206h7M1280 212h101M1297 241h28M1381 206h22M1421 206h63M1381 207h22M1421 207h63M1381 212h103M1396 236h86M1381 268h101M1483 202h103M1483 203h103M1483 204h103M1483 205h103M1483 206h103M1665 233h21M1687 205h102M1687 207h102M1788 208h1M1788 209h1M1788 210h1M1687 211h102M1687 212h102M1697 233h43M1687 241h102M1739 282h49M1693 290h96M1788 202h103M1788 203h103M1788 206h58M1847 206h16M1866 206h14M1889 206h2M1788 212h103M263 309h102M263 311h102M295 328h25M364 306h103M364 307h103M364 366h101M466 311h37M515 311h54M466 368h101M541 384h5M568 310h89M669 310h1M568 345h102M669 311h103M669 345h103M669 386h101M771 316h103M873 309h103M873 310h14M889 310h87M873 311h14M889 311h87M873 316h103M901 327h58M975 316h102M975 345h102M985 374h91M1076 305h8M1088 305h91M1076 310h44M1130 310h49M1123 344h54M1177 345h2M1124 346h44M1086 360h91M1086 361h91M1086 362h91M1082 394h1M1098 394h81M1178 306h103M1178 307h103M1178 308h103M1178 309h103M1280 311h60M1370 311h12M1280 316h102M1340 329h7M1280 345h58M1375 345h7M1381 309h103M1381 311h28M1419 311h14M1434 311h50M1381 316h103M1448 334h3M1411 336h40M1384 345h9M1409 345h10M1413 386h71M1483 308h103M1483 310h41M1525 310h3M1529 310h48M1579 310h7M1483 311h41M1525 311h3M1529 311h48M1579 311h7M1483 316h103M1518 373h66M1489 393h97M1585 309h103M1585 311h40M1645 311h24M1671 311h17M1686 345h2M1687 306h102M1687 307h102M1687 308h102M1687 309h102M1687 311h86M1788 311h1M1764 337h1M1695 363h70M1693 393h96M1788 306h103M1788 308h103M1804 387h1M1830 387h1M1881 387h1M1794 394h97M263 414h102M364 414h103M364 416h80M465 416h2M364 421h103M439 441h26M465 450h2M364 491h103M466 414h103M466 415h103M466 416h103M567 421h2M466 484h101M472 498h76M567 498h2M548 500h19M568 416h102M669 421h1M568 422h101M595 443h37M669 411h103M669 412h103M669 413h103M669 421h103M669 466h101M771 414h103M771 416h34M808 416h66M843 434h29M872 450h2M771 451h35M807 451h65M796 480h76M873 411h103M873 414h103M873 415h103M974 416h2M974 421h2M873 466h101M963 468h11M873 481h78M951 494h23M879 498h97M975 416h88M1076 416h1M989 444h71M975 481h101M1076 466h101M1178 414h103M1178 415h103M1178 416h103M1178 418h103M1178 420h103M1178 421h103M1250 450h17M1178 466h101M1280 415h102M1381 421h1M1297 442h9M1280 450h102M1280 466h101M1280 481h101M1280 491h25M1306 491h76"/><path stroke="#424186" d="M1280 207h11M1317 207h21M1339 207h15M1375 207h7M1381 211h1M1381 212h1M1328 220h16M1345 233h36M1345 235h36M1286 289h96M1286 290h96M1381 205h103M1381 211h103M1381 271h101M1381 281h103M1483 207h103M1483 212h103M1553 232h31M1557 269h27M1489 289h64M1584 289h2M1489 290h64M1584 290h2M1585 207h2M1597 207h8M1608 207h52M1661 207h14M1676 207h5M1682 207h6M1585 212h103M1595 224h70M1585 267h101M1585 268h101M1585 281h103M1591 289h97M1591 290h97M1687 208h101M1687 209h101M1687 210h101M1739 285h22M1693 289h96M1788 204h103M1788 207h58M1847 207h16M1866 207h14M1889 207h2M1788 210h101M1788 211h101M1889 289h2M1889 290h2M263 308h102M263 315h44M323 315h42M263 316h102M283 337h41M283 389h37M283 390h37M323 394h42M364 312h103M364 315h103M364 316h103M374 324h60M374 325h60M374 328h91M389 373h76M370 393h97M370 394h97M466 309h103M466 316h103M466 385h75M546 385h23M472 393h97M472 394h97M648 305h4M568 311h89M669 311h1M568 316h102M608 325h61M593 383h76M669 393h1M669 394h1M669 309h103M684 324h25M735 324h35M675 393h97M675 394h97M771 309h15M788 309h86M771 311h15M788 311h17M813 311h61M783 346h2M777 393h97M873 386h11M886 386h1M889 386h85M879 393h97M879 394h97M1030 305h3M995 335h55M981 393h96M1076 309h103M1076 311h44M1130 311h49M1124 347h44M1088 373h18M1116 373h15M1141 373h25M1088 374h18M1116 374h15M1141 374h25M1096 384h2M1076 385h5M1082 393h1M1098 393h81M1178 311h103M1178 316h103M1233 353h46M1184 393h97M1184 394h97M1280 309h102M1340 338h41M1340 386h41M1340 389h41M1286 393h96M1286 394h96M1381 315h28M1419 315h65M1451 334h31M1451 336h31M1381 380h101M1431 383h51M1381 385h103M1387 393h97M1483 306h103M1505 353h79M1506 389h78M1489 394h97M1585 306h103M1585 307h103M1585 308h103M1585 316h103M1591 394h97M1687 316h102M1764 324h24M1765 337h23M1693 394h96M1788 309h103M1788 311h25M1818 311h27M1847 311h26M1889 311h2M1788 316h40M1889 316h2M1833 360h56M1794 393h97M263 416h102M263 421h102M263 490h102M291 496h22M269 498h96M269 499h96M364 420h103M364 433h101M416 457h49M370 498h97M370 499h97M567 420h2M466 421h101M466 422h101M536 428h10M548 498h19M472 499h76M567 499h2M568 411h102M669 414h1M568 415h17M586 415h62M649 415h20M669 420h1M568 490h102M669 416h68M739 416h33M675 498h97M675 499h97M872 420h2M771 421h103M796 429h76M806 449h1M841 494h31M872 499h2M873 412h103M873 413h103M878 432h40M918 447h33M911 492h1M916 492h1M879 499h97M1076 417h1M1076 420h1M1076 421h1M975 422h101M975 423h101M981 498h96M981 499h96M1076 414h10M1087 414h92M1076 415h10M1087 415h92M1076 416h103M1177 421h2M1076 422h101M1084 429h93M1124 491h53M1106 494h71M1082 498h97M1082 499h97M1178 417h103M1214 480h2M1279 498h2M1280 414h102M1280 416h102M1381 420h1M1305 489h1M1286 498h96M1286 499h96"/><path stroke="#3f4788" d="M1280 281h102M1381 208h22M1421 208h63M1411 249h71M1387 289h97M1387 290h97M1584 211h2M1557 271h27M1483 281h103M1585 202h103M1585 203h103M1585 204h103M1585 211h103M1630 248h56M1585 271h101M1687 204h102M1740 233h21M1761 236h27M1687 281h52M1788 281h1M1889 211h2M1788 281h103M1794 289h95M263 307h102M324 376h40M263 385h60M364 385h1M323 386h41M324 391h40M269 393h96M364 313h103M364 314h103M364 385h103M466 306h82M552 306h17M466 315h103M541 386h5M568 306h80M652 306h18M568 308h102M568 315h102M642 352h2M642 354h5M568 385h5M593 385h77M574 393h95M669 315h60M735 315h37M669 316h60M735 316h37M684 338h86M669 385h103M872 315h2M771 385h103M777 394h97M873 315h103M884 384h2M887 384h2M974 385h2M975 306h55M1033 306h44M975 307h55M1033 307h44M975 308h102M975 385h102M981 394h96M1076 315h103M1076 316h103M1081 385h15M1098 385h81M1096 386h2M1083 393h15M1178 385h103M1340 335h41M1280 385h60M1381 385h1M1381 306h103M1381 307h103M1381 308h103M1381 312h28M1419 312h14M1434 312h50M1381 313h28M1419 313h14M1434 313h50M1381 314h28M1419 314h65M1387 394h97M1483 307h103M1483 315h103M1483 385h103M1585 315h103M1585 385h103M1591 393h97M1695 340h42M1687 385h102M1695 386h42M1695 390h42M1788 315h40M1889 315h2M1828 316h61M1788 385h16M1805 385h25M1831 385h50M1882 385h9M263 420h102M364 490h103M466 411h103M466 412h103M466 413h103M466 420h101M466 453h101M466 490h103M568 412h102M568 413h17M586 413h62M649 413h21M568 420h101M633 429h36M574 498h96M574 499h96M669 420h103M669 490h103M819 410h1M853 410h1M771 419h101M771 420h34M808 420h64M843 432h29M771 490h103M872 498h2M974 420h2M873 421h22M929 421h45M963 470h11M873 490h38M912 490h4M917 490h59M975 413h102M1076 418h1M1076 419h1M975 466h101M975 490h102M1177 420h2M1076 490h48M1177 490h2M1218 428h61M1178 490h103M1184 498h95M1279 499h2M1280 420h101M1298 469h83M1280 473h101M1280 490h25M1306 490h76"/><path stroke="#3d4d8a" d="M1280 209h101M1381 210h1M1381 202h103M1381 204h103M1381 209h103M1553 289h31M1660 206h1M1675 206h1M1681 206h1M1687 202h102M263 306h102M307 315h16M466 307h82M552 307h17M466 308h82M552 308h17M568 307h80M652 307h18M644 352h3M669 312h60M735 312h37M669 313h60M735 313h37M771 306h32M805 306h1M808 306h2M812 306h62M771 307h32M805 307h1M808 307h2M812 307h62M771 308h32M805 308h1M808 308h2M812 308h62M943 305h6M873 314h103M873 345h101M975 315h102M1178 315h103M1340 310h30M1280 315h102M1773 311h15M1687 315h102M390 410h75M364 411h26M465 411h2M364 413h26M465 413h2M444 415h21M567 417h2M567 419h2M568 417h102M568 418h102M568 419h102M806 451h1M777 498h95M873 416h101M974 417h2M974 418h2M975 417h5M983 417h30M1014 417h49M975 421h5M983 421h93"/><path stroke="#3a538b" d="M1338 206h1M1280 208h11M1317 208h21M1339 208h15M1375 208h7M1381 209h1M1283 268h17M1312 268h16M1342 268h39M1280 271h101M1381 203h103M1403 206h18M1381 210h103M1483 211h101M1493 267h15M1520 267h13M1546 267h7M1493 268h15M1520 268h13M1546 268h7M1587 206h10M1605 206h3M1687 203h102M1687 271h52M1739 281h49M1793 230h96M1853 249h25M324 324h40M324 337h40M269 394h54M424 380h10M568 328h101M580 337h89M580 339h89M573 385h20M669 314h60M735 314h37M729 316h6M709 324h26M771 315h101M797 324h75M887 310h2M873 312h14M889 312h87M873 313h103M1024 311h6M1084 305h4M1203 328h76M1335 353h46M1433 311h1M1456 337h26M1384 344h9M1409 344h10M1669 310h2M1625 324h47M1585 345h101M1585 387h101M1687 312h86M1788 312h1M1687 348h101M1695 376h42M1833 325h56M263 417h102M263 418h102M263 419h102M313 429h34M291 442h22M364 412h26M465 412h2M364 450h101M567 418h2M548 494h19M568 414h17M586 414h62M649 414h20M585 415h1M648 415h1M568 421h101M568 453h101M737 415h2M703 429h52M771 417h34M808 417h66M771 418h34M808 418h66M872 419h2M771 450h35M807 450h65M974 419h2M933 429h41M951 471h23M975 411h102M975 412h102M975 450h101M1084 440h93M1116 444h61M1280 421h101M1280 422h101M1308 486h64M1305 491h1"/><path stroke="#38598c" d="M1697 237h43M1880 206h9M1794 290h95M263 312h44M323 312h42M263 313h44M323 313h42M263 314h44M323 314h42M669 306h103M669 308h103M729 312h6M805 310h8M787 336h85M884 386h2M887 386h2M1030 307h3M1146 324h31M1178 312h103M1411 328h71M1524 310h1M1528 310h1M1577 310h2M1625 310h20M1585 312h40M1645 312h24M1671 312h17M1585 314h103M1813 311h5M1845 311h2M1873 311h16M263 411h102M263 413h102M466 417h48M519 417h17M537 417h19M559 417h8M588 442h44M669 417h68M739 417h33M669 419h68M739 419h33M771 411h48M820 411h33M854 411h20M771 413h103M911 490h1M916 490h1M1063 415h13M980 421h3M1177 419h2M1178 411h103M1178 413h103M1298 457h83"/><path stroke="#355f8d" d="M1291 206h26M1354 206h21M1340 230h41M1403 208h18M1409 223h73M1491 220h60M1508 244h65M1587 234h78M1587 235h78M1697 234h43M1846 206h1M307 312h16M332 328h32M374 337h91M484 341h39M556 341h11M648 307h4M657 310h12M568 312h89M669 312h1M568 314h102M642 379h4M658 390h11M574 394h95M669 307h103M873 306h70M949 306h27M873 308h103M873 385h11M886 385h1M889 385h85M1076 345h101M1083 394h15M1178 313h103M1178 314h103M1275 335h4M1188 336h91M1275 337h4M1340 328h41M1338 345h37M1340 385h41M1409 311h10M1433 313h1M1506 324h48M1555 337h29M1491 340h93M1585 313h103M1625 335h61M1687 313h86M1788 313h1M1687 314h102M1828 315h61M1804 385h1M1830 385h1M1881 385h1M263 412h102M414 440h25M369 457h13M548 499h19M585 413h1M648 413h1M596 458h17M669 418h68M739 418h33M715 433h55M721 458h6M764 471h2M697 485h6M771 412h48M820 412h33M854 412h20M786 433h57M774 445h69M805 458h4M808 469h7M818 469h28M777 499h95M895 421h34M913 469h15M951 493h23M989 445h71M1086 415h1M1177 417h2M1177 418h2M1076 450h101M1124 490h53M1216 470h63M1216 476h63M1206 478h8M1216 478h63M1206 479h8M1216 479h63M1208 493h10M1218 495h61M1184 499h95M1280 411h102M1289 443h8M1306 443h49"/><path stroke="#32648e" d="M1338 208h1M1483 210h101M1585 208h2M1597 208h8M1608 208h52M1661 208h14M1676 208h5M1682 208h6M1585 210h103M1863 206h3M323 385h41M503 311h12M466 312h37M515 312h54M466 314h103M568 313h102M786 309h2M887 312h2M975 312h49M1030 312h47M975 314h102M1120 310h10M1280 312h60M1370 312h12M1409 315h10M390 413h75M364 417h80M465 417h2M364 419h103M805 416h3M805 420h3M980 417h3M1013 417h1M1063 417h13M1076 411h103M1076 413h10M1087 413h92M1076 417h101M1178 412h103M1280 413h102"/><path stroke="#306a8e" d="M1459 220h23M1407 249h4M1483 208h103M1584 210h2M1557 220h27M1585 209h103M1665 234h21M1665 235h21M1625 248h5M1803 235h86M466 313h37M515 313h54M582 353h5M588 353h7M634 353h6M707 352h6M734 352h36M786 311h2M872 312h2M771 313h101M771 314h103M787 337h44M787 373h6M873 307h70M949 307h27M877 324h82M975 313h49M1030 313h47M1076 306h8M1088 306h91M1076 308h103M1220 353h5M1280 306h102M1280 308h102M1280 313h60M1370 313h12M1280 314h102M1411 325h71M1409 353h71M1483 312h41M1525 312h3M1529 312h48M1579 312h7M1495 328h89M1506 367h13M1506 374h78M1669 312h2M1625 337h61M1773 313h15M1695 324h42M1828 328h61M291 494h22M291 495h22M364 418h103M439 440h26M466 418h48M519 418h17M537 418h19M559 418h8M466 419h48M519 419h17M537 419h19M559 419h8M704 443h40M951 469h12M975 418h5M983 418h30M1014 418h62M975 419h5M983 419h30M1014 419h62M975 420h5M983 420h93M1206 442h7M1214 478h2M1280 412h102M1280 417h25M1306 417h54M1361 417h21M1280 419h25M1306 419h54M1361 419h21M1289 429h21M1314 429h8M1330 429h51"/><path stroke="#2e6f8e" d="M1291 208h26M1354 208h21M1489 288h64M1584 288h2M1660 208h1M1675 208h1M1681 208h1M1693 288h96M548 306h4M548 308h4M472 392h97M675 392h97M803 306h2M806 306h2M810 306h2M803 308h2M806 308h2M810 308h2M771 312h34M813 312h59M1483 314h103M1489 392h97M1625 312h20M1693 392h96M1828 314h61M444 417h21M514 417h5M536 417h1M556 417h3M472 497h97M675 497h97M819 412h1M853 412h1M873 417h22M929 417h45M873 418h22M929 418h45M873 419h22M929 419h45M873 420h22M929 420h45M981 497h96M1076 412h103M1082 497h97M1184 497h97"/><path stroke="#2b748e" d="M1286 288h96M1387 288h97M1483 209h103M1605 208h3M1591 288h97M1788 208h58M1847 208h16M1866 208h14M1889 208h2M1788 209h101M1889 210h2M1794 288h97M269 392h96M370 392h97M574 392h96M872 313h2M777 392h97M943 307h6M879 392h97M981 392h96M1076 307h8M1088 307h91M1076 312h44M1130 312h49M1076 314h103M1082 392h97M1184 392h97M1280 307h102M1340 313h30M1286 392h96M1387 392h97M1483 313h103M1591 392h97M1788 312h25M1818 312h27M1847 312h26M1889 312h2M1788 314h40M1889 314h2M1794 392h97M269 497h96M370 497h97M574 497h96M737 419h2M777 497h64M872 497h2M879 497h97M1013 419h1M1076 418h101M1076 419h87M1165 419h12M1076 420h87M1165 420h12M1076 421h87M1165 421h12M1280 418h25M1306 418h54M1361 418h21M1286 497h96"/><path stroke="#29798e" d="M1553 288h31M1553 290h31M1553 291h31M1587 208h10M307 313h16M307 314h16M657 312h12M1024 313h6M536 419h1M556 419h3M490 442h77M843 433h29M771 443h3M843 443h29M895 417h34M951 481h23M1086 413h1M1305 417h1M1360 417h1M1305 419h1M1360 419h1M1297 443h9"/><path stroke="#277e8e" d="M1889 209h2M805 312h8M831 337h41M1084 307h4M1524 312h1M1528 312h1M1577 312h2M1788 313h25M1818 313h27M1847 313h26M1889 313h2M444 416h21M514 419h5M841 497h31"/><path stroke="#25838e" d="M1316 277h65M1880 208h9M323 373h41M324 389h40M324 390h40M503 313h12M729 313h6M729 314h6M729 315h6M944 390h15M944 391h15M1030 306h3M1076 313h103M1096 385h2M1301 380h80M551 479h16M801 495h40M801 496h40M963 469h11M951 495h23M951 496h23M988 443h88"/><path stroke="#23888e" d="M1846 208h1M1340 311h30M1340 312h30M1773 312h15M1813 313h5M1845 313h2M1873 313h16"/><path stroke="#218e8d" d="M1863 208h3M1120 312h10M1163 419h2M1163 421h2"/><path stroke="#20928c" d="M1403 207h18M1553 285h31M1553 286h31M1553 287h31M1740 234h21M1761 237h27M541 385h5M648 306h4M783 345h2M806 450h1M841 495h31M841 496h31M911 491h1M916 491h1M1214 479h2"/><path stroke="#1f988b" d="M895 418h34M895 419h34M895 420h34"/><path stroke="#1e9d89" d="M1761 234h27M1761 235h27M1873 312h16M390 411h75M390 412h75"/><path stroke="#22a785" d="M1338 207h1M1660 207h1M1675 207h1M1681 207h1M943 306h6M887 311h2M884 385h2M887 385h2M1433 312h1M1411 335h40M1625 311h20M1669 311h2M1804 386h1M1830 386h1M1881 386h1M585 414h1M648 414h1M819 411h1M853 411h1M980 418h3M1013 418h1M980 419h3M980 420h3M1305 490h1"/><path stroke="#2cb17e" d="M1880 207h9"/><path stroke="#32b67a" d="M1024 312h6M1084 306h4M1305 418h1M1360 418h1"/><path stroke="#44bf70" d="M1605 207h3M1451 335h31M1813 312h5M1845 312h2M536 418h1M556 418h3M1063 416h13"/><path stroke="#5ac864" d="M1345 234h36M1587 207h10M1524 311h1M1528 311h1M1577 311h2M514 418h5M737 416h2M737 417h2M737 418h2M1086 414h1"/><path stroke="#7fd34e" d="M1291 207h26M1846 207h1M805 311h8M1409 312h10M1409 313h10M1409 314h10M805 418h3"/><path stroke="#9bd93c" d="M1354 207h21M1557 270h27M503 312h12M657 311h12"/><path stroke="#b8de29" d="M642 353h5M803 307h2M806 307h2M810 307h2M786 310h2M1163 420h2"/><path stroke="#e5e419" d="M1863 207h3M548 307h4M1120 311h10M805 417h3"/></g><rect x="1280" y="202" width="102" height="1" fill="url(#p02)"/><rect x="1280" y="203" width="102" height="1" fill="url(#p01)"/><rect x="1280" y="204" width="102" height="1" fill="url(#p00)"/><rect x="1280" y="208" width="102" height="1" fill="url(#p10)"/><rect x="1280" y="209" width="102" height="1" fill="url(#p13)"/><rect x="1280" y="210" width="102" height="1" fill="url(#p12)"/><rect x="1280" y="241" width="102" height="1" fill="url(#p03)"/><rect x="1280" y="244" width="102" height="1" fill="url(#p00)"/><rect x="1280" y="281" width="102" height="1" fill="url(#p13)"/><rect x="1381" y="202" width="103" height="1" fill="url(#p13)"/><rect x="1381" y="203" width="103" height="1" fill="url(#p12)"/><rect x="1381" y="204" width="103" height="1" fill="url(#p11)"/><rect x="1381" y="208" width="103" height="1" fill="url(#p11)"/><rect x="1381" y="209" width="103" height="1" fill="url(#p10)"/><rect x="1381" y="210" width="103" height="1" fill="url(#p13)"/><rect x="1381" y="241" width="103" height="1" fill="url(#p00)"/><rect x="1381" y="244" width="103" height="1" fill="url(#p01)"/><rect x="1381" y="281" width="103" height="1" fill="url(#p10)"/><rect x="1403" y="207" width="18" height="1" fill="url(#p30)"/><rect x="1381" y="268" width="101" height="1" fill="url(#p01)"/><rect x="1483" y="202" width="103" height="1" fill="url(#p01)"/><rect x="1483" y="203" width="103" height="1" fill="url(#p00)"/><rect x="1483" y="204" width="103" height="1" fill="url(#p03)"/><rect x="1483" y="208" width="103" height="1" fill="url(#p23)"/><rect x="1483" y="209" width="103" height="1" fill="url(#p22)"/><rect x="1483" y="210" width="103" height="1" fill="url(#p21)"/><rect x="1483" y="241" width="103" height="1" fill="url(#p02)"/><rect x="1483" y="244" width="103" height="1" fill="url(#p03)"/><rect x="1483" y="281" width="103" height="1" fill="url(#p12)"/><rect x="1585" y="202" width="103" height="1" fill="url(#p13)"/><rect x="1585" y="203" width="103" height="1" fill="url(#p12)"/><rect x="1585" y="204" width="103" height="1" fill="url(#p11)"/><rect x="1585" y="208" width="103" height="1" fill="url(#p21)"/><rect x="1585" y="209" width="103" height="1" fill="url(#p20)"/><rect x="1585" y="210" width="103" height="1" fill="url(#p23)"/><rect x="1585" y="241" width="103" height="1" fill="url(#p00)"/><rect x="1585" y="244" width="103" height="1" fill="url(#p01)"/><rect x="1585" y="281" width="103" height="1" fill="url(#p10)"/><rect x="1585" y="267" width="101" height="1" fill="url(#p02)"/><rect x="1585" y="268" width="101" height="1" fill="url(#p01)"/><rect x="1687" y="202" width="102" height="1" fill="url(#p11)"/><rect x="1687" y="203" width="102" height="1" fill="url(#p10)"/><rect x="1687" y="204" width="102" height="1" fill="url(#p13)"/><rect x="1687" y="208" width="102" height="1" fill="url(#p03)"/><rect x="1687" y="209" width="102" height="1" fill="url(#p02)"/><rect x="1687" y="210" width="102" height="1" fill="url(#p01)"/><rect x="1687" y="241" width="102" height="1" fill="url(#p12)"/><rect x="1687" y="244" width="102" height="1" fill="url(#p03)"/><rect x="1687" y="281" width="102" height="1" fill="url(#p12)"/><rect x="1687" y="209" width="101" height="1" fill="url(#p02)"/><rect x="1739" y="281" width="49" height="1" fill="url(#p12)"/><rect x="1788" y="202" width="103" height="1" fill="url(#p02)"/><rect x="1788" y="203" width="103" height="1" fill="url(#p01)"/><rect x="1788" y="204" width="103" height="1" fill="url(#p00)"/><rect x="1788" y="208" width="103" height="1" fill="url(#p30)"/><rect x="1788" y="209" width="103" height="1" fill="url(#p33)"/><rect x="1788" y="210" width="103" height="1" fill="url(#p32)"/><rect x="1788" y="241" width="103" height="1" fill="url(#p03)"/><rect x="1788" y="244" width="103" height="1" fill="url(#p00)"/><rect x="1788" y="281" width="103" height="1" fill="url(#p13)"/><rect x="1880" y="207" width="9" height="1" fill="url(#p41)"/><rect x="263" y="306" width="102" height="1" fill="url(#p11)"/><rect x="263" y="307" width="102" height="1" fill="url(#p10)"/><rect x="263" y="308" width="102" height="1" fill="url(#p13)"/><rect x="263" y="312" width="102" height="1" fill="url(#p23)"/><rect x="263" y="313" width="102" height="1" fill="url(#p12)"/><rect x="263" y="314" width="102" height="1" fill="url(#p21)"/><rect x="263" y="345" width="102" height="1" fill="url(#p02)"/><rect x="263" y="348" width="102" height="1" fill="url(#p03)"/><rect x="263" y="385" width="102" height="1" fill="url(#p12)"/><rect x="268" y="380" width="35" height="1" fill="url(#p00)"/><rect x="323" y="385" width="41" height="1" fill="url(#p22)"/><rect x="364" y="306" width="103" height="1" fill="url(#p02)"/><rect x="364" y="307" width="103" height="1" fill="url(#p01)"/><rect x="364" y="308" width="103" height="1" fill="url(#p00)"/><rect x="364" y="312" width="103" height="1" fill="url(#p10)"/><rect x="364" y="313" width="103" height="1" fill="url(#p13)"/><rect x="364" y="314" width="103" height="1" fill="url(#p12)"/><rect x="364" y="345" width="103" height="1" fill="url(#p03)"/><rect x="364" y="348" width="103" height="1" fill="url(#p00)"/><rect x="364" y="385" width="103" height="1" fill="url(#p13)"/><rect x="364" y="366" width="101" height="1" fill="url(#p02)"/><rect x="466" y="306" width="103" height="1" fill="url(#p10)"/><rect x="466" y="307" width="103" height="1" fill="url(#p13)"/><rect x="466" y="308" width="103" height="1" fill="url(#p12)"/><rect x="466" y="312" width="103" height="1" fill="url(#p22)"/><rect x="466" y="313" width="103" height="1" fill="url(#p21)"/><rect x="466" y="314" width="103" height="1" fill="url(#p20)"/><rect x="466" y="345" width="103" height="1" fill="url(#p11)"/><rect x="466" y="348" width="103" height="1" fill="url(#p02)"/><rect x="466" y="385" width="103" height="1" fill="url(#p11)"/><rect x="466" y="368" width="101" height="1" fill="url(#p02)"/><rect x="568" y="306" width="102" height="1" fill="url(#p12)"/><rect x="568" y="307" width="102" height="1" fill="url(#p11)"/><rect x="568" y="308" width="102" height="1" fill="url(#p10)"/><rect x="568" y="312" width="102" height="1" fill="url(#p20)"/><rect x="568" y="313" width="102" height="1" fill="url(#p23)"/><rect x="568" y="314" width="102" height="1" fill="url(#p22)"/><rect x="568" y="345" width="102" height="1" fill="url(#p03)"/><rect x="568" y="348" width="102" height="1" fill="url(#p00)"/><rect x="568" y="385" width="102" height="1" fill="url(#p13)"/><rect x="573" y="385" width="20" height="1" fill="url(#p10)"/><rect x="669" y="306" width="103" height="1" fill="url(#p23)"/><rect x="669" y="307" width="103" height="1" fill="url(#p22)"/><rect x="669" y="308" width="103" height="1" fill="url(#p21)"/><rect x="669" y="312" width="103" height="1" fill="url(#p11)"/><rect x="669" y="313" width="103" height="1" fill="url(#p10)"/><rect x="669" y="314" width="103" height="1" fill="url(#p13)"/><rect x="669" y="345" width="103" height="1" fill="url(#p10)"/><rect x="669" y="348" width="103" height="1" fill="url(#p01)"/><rect x="669" y="385" width="103" height="1" fill="url(#p10)"/><rect x="669" y="372" width="101" height="1" fill="url(#p01)"/><rect x="669" y="386" width="101" height="1" fill="url(#p03)"/><rect x="771" y="306" width="103" height="1" fill="url(#p11)"/><rect x="771" y="307" width="103" height="1" fill="url(#p10)"/><rect x="771" y="308" width="103" height="1" fill="url(#p13)"/><rect x="771" y="312" width="103" height="1" fill="url(#p23)"/><rect x="771" y="313" width="103" height="1" fill="url(#p22)"/><rect x="771" y="314" width="103" height="1" fill="url(#p21)"/><rect x="771" y="345" width="103" height="1" fill="url(#p02)"/><rect x="771" y="348" width="103" height="1" fill="url(#p03)"/><rect x="771" y="385" width="103" height="1" fill="url(#p12)"/><rect x="771" y="313" width="101" height="1" fill="url(#p22)"/><rect x="771" y="314" width="101" height="1" fill="url(#p21)"/><rect x="873" y="306" width="103" height="1" fill="url(#p23)"/><rect x="873" y="307" width="103" height="1" fill="url(#p22)"/><rect x="873" y="308" width="103" height="1" fill="url(#p21)"/><rect x="873" y="312" width="103" height="1" fill="url(#p21)"/><rect x="873" y="313" width="103" height="1" fill="url(#p10)"/><rect x="873" y="314" width="103" height="1" fill="url(#p13)"/><rect x="873" y="345" width="103" height="1" fill="url(#p00)"/><rect x="873" y="348" width="103" height="1" fill="url(#p01)"/><rect x="873" y="385" width="103" height="1" fill="url(#p10)"/><rect x="873" y="345" width="101" height="1" fill="url(#p10)"/><rect x="873" y="385" width="101" height="1" fill="url(#p20)"/><rect x="975" y="306" width="102" height="1" fill="url(#p11)"/><rect x="975" y="307" width="102" height="1" fill="url(#p10)"/><rect x="975" y="308" width="102" height="1" fill="url(#p13)"/><rect x="975" y="312" width="102" height="1" fill="url(#p23)"/><rect x="975" y="313" width="102" height="1" fill="url(#p22)"/><rect x="975" y="314" width="102" height="1" fill="url(#p21)"/><rect x="975" y="345" width="102" height="1" fill="url(#p12)"/><rect x="975" y="348" width="102" height="1" fill="url(#p03)"/><rect x="975" y="385" width="102" height="1" fill="url(#p12)"/><rect x="1076" y="306" width="103" height="1" fill="url(#p22)"/><rect x="1076" y="307" width="103" height="1" fill="url(#p21)"/><rect x="1076" y="308" width="103" height="1" fill="url(#p20)"/><rect x="1076" y="312" width="103" height="1" fill="url(#p30)"/><rect x="1076" y="313" width="103" height="1" fill="url(#p33)"/><rect x="1076" y="314" width="103" height="1" fill="url(#p32)"/><rect x="1076" y="345" width="103" height="1" fill="url(#p03)"/><rect x="1076" y="348" width="103" height="1" fill="url(#p00)"/><rect x="1076" y="385" width="103" height="1" fill="url(#p13)"/><rect x="1076" y="345" width="101" height="1" fill="url(#p23)"/><rect x="1178" y="306" width="103" height="1" fill="url(#p00)"/><rect x="1178" y="307" width="103" height="1" fill="url(#p03)"/><rect x="1178" y="308" width="103" height="1" fill="url(#p02)"/><rect x="1178" y="312" width="103" height="1" fill="url(#p22)"/><rect x="1178" y="313" width="103" height="1" fill="url(#p21)"/><rect x="1178" y="314" width="103" height="1" fill="url(#p20)"/><rect x="1178" y="345" width="103" height="1" fill="url(#p01)"/><rect x="1178" y="348" width="103" height="1" fill="url(#p02)"/><rect x="1178" y="385" width="103" height="1" fill="url(#p11)"/><rect x="1178" y="368" width="101" height="1" fill="url(#p02)"/><rect x="1280" y="306" width="102" height="1" fill="url(#p22)"/><rect x="1280" y="307" width="102" height="1" fill="url(#p21)"/><rect x="1280" y="308" width="102" height="1" fill="url(#p20)"/><rect x="1280" y="312" width="102" height="1" fill="url(#p20)"/><rect x="1280" y="313" width="102" height="1" fill="url(#p23)"/><rect x="1280" y="314" width="102" height="1" fill="url(#p22)"/><rect x="1280" y="345" width="102" height="1" fill="url(#p13)"/><rect x="1280" y="348" width="102" height="1" fill="url(#p00)"/><rect x="1280" y="385" width="102" height="1" fill="url(#p13)"/><rect x="1340" y="311" width="30" height="1" fill="url(#p31)"/><rect x="1340" y="312" width="30" height="1" fill="url(#p30)"/><rect x="1340" y="385" width="41" height="1" fill="url(#p23)"/><rect x="1381" y="306" width="103" height="1" fill="url(#p13)"/><rect x="1381" y="307" width="103" height="1" fill="url(#p12)"/><rect x="1381" y="308" width="103" height="1" fill="url(#p11)"/><rect x="1381" y="312" width="103" height="1" fill="url(#p11)"/><rect x="1381" y="313" width="103" height="1" fill="url(#p10)"/><rect x="1381" y="314" width="103" height="1" fill="url(#p13)"/><rect x="1381" y="345" width="103" height="1" fill="url(#p00)"/><rect x="1381" y="348" width="103" height="1" fill="url(#p01)"/><rect x="1381" y="385" width="103" height="1" fill="url(#p10)"/><rect x="1483" y="306" width="103" height="1" fill="url(#p11)"/><rect x="1483" y="307" width="103" height="1" fill="url(#p10)"/><rect x="1483" y="308" width="103" height="1" fill="url(#p03)"/><rect x="1483" y="312" width="103" height="1" fill="url(#p23)"/><rect x="1483" y="313" width="103" height="1" fill="url(#p22)"/><rect x="1483" y="314" width="103" height="1" fill="url(#p21)"/><rect x="1483" y="345" width="103" height="1" fill="url(#p12)"/><rect x="1483" y="348" width="103" height="1" fill="url(#p03)"/><rect x="1483" y="385" width="103" height="1" fill="url(#p12)"/><rect x="1585" y="306" width="103" height="1" fill="url(#p13)"/><rect x="1585" y="307" width="103" height="1" fill="url(#p02)"/><rect x="1585" y="308" width="103" height="1" fill="url(#p11)"/><rect x="1585" y="312" width="103" height="1" fill="url(#p21)"/><rect x="1585" y="313" width="103" height="1" fill="url(#p20)"/><rect x="1585" y="314" width="103" height="1" fill="url(#p23)"/><rect x="1585" y="345" width="103" height="1" fill="url(#p10)"/><rect x="1585" y="348" width="103" height="1" fill="url(#p01)"/><rect x="1585" y="385" width="103" height="1" fill="url(#p10)"/><rect x="1625" y="311" width="20" height="1" fill="url(#p42)"/><rect x="1585" y="345" width="101" height="1" fill="url(#p10)"/><rect x="1687" y="306" width="102" height="1" fill="url(#p11)"/><rect x="1687" y="307" width="102" height="1" fill="url(#p00)"/><rect x="1687" y="308" width="102" height="1" fill="url(#p03)"/><rect x="1687" y="312" width="102" height="1" fill="url(#p13)"/><rect x="1687" y="313" width="102" height="1" fill="url(#p22)"/><rect x="1687" y="314" width="102" height="1" fill="url(#p21)"/><rect x="1687" y="345" width="102" height="1" fill="url(#p02)"/><rect x="1687" y="348" width="102" height="1" fill="url(#p03)"/><rect x="1687" y="385" width="102" height="1" fill="url(#p12)"/><rect x="1773" y="312" width="15" height="1" fill="url(#p31)"/><rect x="1687" y="348" width="101" height="1" fill="url(#p13)"/><rect x="1695" y="386" width="42" height="1" fill="url(#p11)"/><rect x="1788" y="306" width="103" height="1" fill="url(#p02)"/><rect x="1788" y="307" width="103" height="1" fill="url(#p01)"/><rect x="1788" y="308" width="103" height="1" fill="url(#p00)"/><rect x="1788" y="312" width="103" height="1" fill="url(#p30)"/><rect x="1788" y="313" width="103" height="1" fill="url(#p33)"/><rect x="1788" y="314" width="103" height="1" fill="url(#p32)"/><rect x="1788" y="345" width="103" height="1" fill="url(#p03)"/><rect x="1788" y="348" width="103" height="1" fill="url(#p00)"/><rect x="1788" y="385" width="103" height="1" fill="url(#p13)"/><rect x="1873" y="312" width="16" height="1" fill="url(#p41)"/><rect x="263" y="411" width="102" height="1" fill="url(#p20)"/><rect x="263" y="412" width="102" height="1" fill="url(#p23)"/><rect x="263" y="413" width="102" height="1" fill="url(#p22)"/><rect x="263" y="417" width="102" height="1" fill="url(#p12)"/><rect x="263" y="418" width="102" height="1" fill="url(#p11)"/><rect x="263" y="419" width="102" height="1" fill="url(#p10)"/><rect x="263" y="450" width="102" height="1" fill="url(#p01)"/><rect x="263" y="453" width="102" height="1" fill="url(#p02)"/><rect x="263" y="490" width="102" height="1" fill="url(#p11)"/><rect x="364" y="411" width="103" height="1" fill="url(#p11)"/><rect x="364" y="412" width="103" height="1" fill="url(#p10)"/><rect x="364" y="413" width="103" height="1" fill="url(#p13)"/><rect x="364" y="417" width="103" height="1" fill="url(#p23)"/><rect x="364" y="418" width="103" height="1" fill="url(#p22)"/><rect x="364" y="419" width="103" height="1" fill="url(#p21)"/><rect x="364" y="450" width="103" height="1" fill="url(#p12)"/><rect x="364" y="453" width="103" height="1" fill="url(#p03)"/><rect x="364" y="490" width="103" height="1" fill="url(#p12)"/><rect x="390" y="411" width="75" height="1" fill="url(#p43)"/><rect x="390" y="412" width="75" height="1" fill="url(#p42)"/><rect x="444" y="416" width="21" height="1" fill="url(#p30)"/><rect x="364" y="450" width="101" height="1" fill="url(#p12)"/><rect x="466" y="411" width="103" height="1" fill="url(#p13)"/><rect x="466" y="412" width="103" height="1" fill="url(#p12)"/><rect x="466" y="413" width="103" height="1" fill="url(#p11)"/><rect x="466" y="417" width="103" height="1" fill="url(#p11)"/><rect x="466" y="418" width="103" height="1" fill="url(#p10)"/><rect x="466" y="419" width="103" height="1" fill="url(#p13)"/><rect x="466" y="450" width="103" height="1" fill="url(#p00)"/><rect x="466" y="453" width="103" height="1" fill="url(#p01)"/><rect x="466" y="490" width="103" height="1" fill="url(#p10)"/><rect x="466" y="418" width="101" height="1" fill="url(#p20)"/><rect x="466" y="419" width="101" height="1" fill="url(#p23)"/><rect x="466" y="453" width="101" height="1" fill="url(#p11)"/><rect x="466" y="484" width="101" height="1" fill="url(#p02)"/><rect x="568" y="411" width="102" height="1" fill="url(#p11)"/><rect x="568" y="412" width="102" height="1" fill="url(#p10)"/><rect x="568" y="413" width="102" height="1" fill="url(#p13)"/><rect x="568" y="417" width="102" height="1" fill="url(#p13)"/><rect x="568" y="418" width="102" height="1" fill="url(#p12)"/><rect x="568" y="419" width="102" height="1" fill="url(#p11)"/><rect x="568" y="450" width="102" height="1" fill="url(#p02)"/><rect x="568" y="453" width="102" height="1" fill="url(#p03)"/><rect x="568" y="490" width="102" height="1" fill="url(#p12)"/><rect x="568" y="414" width="101" height="1" fill="url(#p12)"/><rect x="568" y="421" width="101" height="1" fill="url(#p13)"/><rect x="568" y="453" width="101" height="1" fill="url(#p13)"/><rect x="669" y="411" width="103" height="1" fill="url(#p02)"/><rect x="669" y="412" width="103" height="1" fill="url(#p01)"/><rect x="669" y="413" width="103" height="1" fill="url(#p00)"/><rect x="669" y="417" width="103" height="1" fill="url(#p20)"/><rect x="669" y="418" width="103" height="1" fill="url(#p23)"/><rect x="669" y="419" width="103" height="1" fill="url(#p22)"/><rect x="669" y="450" width="103" height="1" fill="url(#p03)"/><rect x="669" y="453" width="103" height="1" fill="url(#p00)"/><rect x="669" y="490" width="103" height="1" fill="url(#p13)"/><rect x="669" y="466" width="101" height="1" fill="url(#p03)"/><rect x="771" y="411" width="103" height="1" fill="url(#p20)"/><rect x="771" y="412" width="103" height="1" fill="url(#p23)"/><rect x="771" y="413" width="103" height="1" fill="url(#p22)"/><rect x="771" y="417" width="103" height="1" fill="url(#p12)"/><rect x="771" y="418" width="103" height="1" fill="url(#p11)"/><rect x="771" y="419" width="103" height="1" fill="url(#p10)"/><rect x="771" y="450" width="103" height="1" fill="url(#p01)"/><rect x="771" y="453" width="103" height="1" fill="url(#p02)"/><rect x="771" y="490" width="103" height="1" fill="url(#p11)"/><rect x="771" y="419" width="101" height="1" fill="url(#p10)"/><rect x="771" y="450" width="101" height="1" fill="url(#p11)"/><rect x="796" y="480" width="76" height="1" fill="url(#p00)"/><rect x="873" y="411" width="103" height="1" fill="url(#p02)"/><rect x="873" y="412" width="103" height="1" fill="url(#p11)"/><rect x="873" y="413" width="103" height="1" fill="url(#p10)"/><rect x="873" y="417" width="103" height="1" fill="url(#p10)"/><rect x="873" y="418" width="103" height="1" fill="url(#p13)"/><rect x="873" y="419" width="103" height="1" fill="url(#p12)"/><rect x="873" y="450" width="103" height="1" fill="url(#p03)"/><rect x="873" y="453" width="103" height="1" fill="url(#p00)"/><rect x="873" y="490" width="103" height="1" fill="url(#p13)"/><rect x="873" y="417" width="101" height="1" fill="url(#p20)"/><rect x="873" y="418" width="101" height="1" fill="url(#p23)"/><rect x="873" y="419" width="101" height="1" fill="url(#p22)"/><rect x="873" y="420" width="101" height="1" fill="url(#p21)"/><rect x="895" y="418" width="34" height="1" fill="url(#p31)"/><rect x="895" y="419" width="34" height="1" fill="url(#p30)"/><rect x="895" y="420" width="34" height="1" fill="url(#p33)"/><rect x="873" y="466" width="101" height="1" fill="url(#p03)"/><rect x="873" y="481" width="78" height="1" fill="url(#p00)"/><rect x="975" y="411" width="102" height="1" fill="url(#p10)"/><rect x="975" y="412" width="102" height="1" fill="url(#p13)"/><rect x="975" y="413" width="102" height="1" fill="url(#p12)"/><rect x="975" y="417" width="102" height="1" fill="url(#p12)"/><rect x="975" y="418" width="102" height="1" fill="url(#p11)"/><rect x="975" y="419" width="102" height="1" fill="url(#p10)"/><rect x="975" y="450" width="102" height="1" fill="url(#p01)"/><rect x="975" y="453" width="102" height="1" fill="url(#p02)"/><rect x="975" y="490" width="102" height="1" fill="url(#p11)"/><rect x="975" y="418" width="101" height="1" fill="url(#p21)"/><rect x="975" y="419" width="101" height="1" fill="url(#p20)"/><rect x="975" y="420" width="101" height="1" fill="url(#p23)"/><rect x="975" y="450" width="101" height="1" fill="url(#p11)"/><rect x="975" y="466" width="101" height="1" fill="url(#p11)"/><rect x="975" y="481" width="101" height="1" fill="url(#p02)"/><rect x="1076" y="411" width="103" height="1" fill="url(#p21)"/><rect x="1076" y="412" width="103" height="1" fill="url(#p20)"/><rect x="1076" y="413" width="103" height="1" fill="url(#p23)"/><rect x="1076" y="417" width="103" height="1" fill="url(#p23)"/><rect x="1076" y="418" width="103" height="1" fill="url(#p22)"/><rect x="1076" y="419" width="103" height="1" fill="url(#p21)"/><rect x="1076" y="450" width="103" height="1" fill="url(#p02)"/><rect x="1076" y="453" width="103" height="1" fill="url(#p03)"/><rect x="1076" y="490" width="103" height="1" fill="url(#p12)"/><rect x="1076" y="418" width="101" height="1" fill="url(#p22)"/><rect x="1076" y="419" width="101" height="1" fill="url(#p21)"/><rect x="1076" y="420" width="101" height="1" fill="url(#p20)"/><rect x="1076" y="421" width="101" height="1" fill="url(#p23)"/><rect x="1076" y="450" width="101" height="1" fill="url(#p22)"/><rect x="1076" y="466" width="101" height="1" fill="url(#p02)"/><rect x="1076" y="481" width="101" height="1" fill="url(#p03)"/><rect x="1124" y="490" width="53" height="1" fill="url(#p22)"/><rect x="1178" y="411" width="103" height="1" fill="url(#p23)"/><rect x="1178" y="412" width="103" height="1" fill="url(#p22)"/><rect x="1178" y="413" width="103" height="1" fill="url(#p21)"/><rect x="1178" y="417" width="103" height="1" fill="url(#p01)"/><rect x="1178" y="418" width="103" height="1" fill="url(#p00)"/><rect x="1178" y="419" width="103" height="1" fill="url(#p03)"/><rect x="1178" y="450" width="103" height="1" fill="url(#p00)"/><rect x="1178" y="453" width="103" height="1" fill="url(#p01)"/><rect x="1178" y="490" width="103" height="1" fill="url(#p10)"/><rect x="1178" y="466" width="101" height="1" fill="url(#p00)"/><rect x="1280" y="411" width="102" height="1" fill="url(#p21)"/><rect x="1280" y="412" width="102" height="1" fill="url(#p20)"/><rect x="1280" y="413" width="102" height="1" fill="url(#p23)"/><rect x="1280" y="417" width="102" height="1" fill="url(#p23)"/><rect x="1280" y="418" width="102" height="1" fill="url(#p22)"/><rect x="1280" y="419" width="102" height="1" fill="url(#p21)"/><rect x="1280" y="450" width="102" height="1" fill="url(#p12)"/><rect x="1280" y="453" width="102" height="1" fill="url(#p03)"/><rect x="1280" y="490" width="102" height="1" fill="url(#p12)"/><rect x="1280" y="466" width="101" height="1" fill="url(#p02)"/><rect x="1280" y="473" width="101" height="1" fill="url(#p13)"/><rect x="1280" y="481" width="101" height="1" fill="url(#p03)"/></g><path d="M263 96.5H1891M263 191.5H1891M263.5 96V192M364.5 96V192M466.5 96V192M568.5 96V192M669.5 96V192M771.5 96V192M873.5 96V192M975.5 96V192M1076.5 96V192M1178.5 96V192M1280.5 96V192M1381.5 96V192M1483.5 96V192M1585.5 96V192M1687.5 96V192M1788.5 96V192M1890.5 96V192M974.5 96V192M263 200.5H1891M263 295.5H1891M263.5 200V296M364.5 200V296M466.5 200V296M568.5 200V296M669.5 200V296M771.5 200V296M873.5 200V296M975.5 200V296M1076.5 200V296M1178.5 200V296M1280.5 200V296M1381.5 200V296M1483.5 200V296M1585.5 200V296M1687.5 200V296M1788.5 200V296M1890.5 200V296M974.5 200V296M263 304.5H1891M263 399.5H1891M263.5 304V400M364.5 304V400M466.5 304V400M568.5 304V400M669.5 304V400M771.5 304V400M873.5 304V400M975.5 304V400M1076.5 304V400M1178.5 304V400M1280.5 304V400M1381.5 304V400M1483.5 304V400M1585.5 304V400M1687.5 304V400M1788.5 304V400M1890.5 304V400M974.5 304V400M263 409.5H1891M263 504.5H1891M263.5 409V505M364.5 409V505M466.5 409V505M568.5 409V505M669.5 409V505M771.5 409V505M873.5 409V505M975.5 409V505M1076.5 409V505M1178.5 409V505M1280.5 409V505M1381.5 409V505M1483.5 409V505M1585.5 409V505M1687.5 409V505M1788.5 409V505M1890.5 409V505M974.5 409V505M263 513.5H1891M263 608.5H1891M263.5 513V609M364.5 513V609M466.5 513V609M568.5 513V609M669.5 513V609M771.5 513V609M873.5 513V609M975.5 513V609M1076.5 513V609M1178.5 513V609M1280.5 513V609M1381.5 513V609M1483.5 513V609M1585.5 513V609M1687.5 513V609M1788.5 513V609M1890.5 513V609M974.5 513V609M263 617.5H1891M263 712.5H1891M263.5 617V713M364.5 617V713M466.5 617V713M568.5 617V713M669.5 617V713M771.5 617V713M873.5 617V713M975.5 617V713M1076.5 617V713M1178.5 617V713M1280.5 617V713M1381.5 617V713M1483.5 617V713M1585.5 617V713M1687.5 617V713M1788.5 617V713M1890.5 617V713M974.5 617V713" stroke="#000" stroke-width="1.11" fill="none"/><path d="M258.14 107.5H263M359.14 107.5H364M461.14 107.5H466M563.14 107.5H568M664.14 107.5H669M766.14 107.5H771M868.14 107.5H873M970.14 107.5H975M1071.14 107.5H1076M1173.14 107.5H1178M1275.14 107.5H1280M1376.14 107.5H1381M1478.14 107.5H1483M1580.14 107.5H1585M1682.14 107.5H1687M1783.14 107.5H1788M258.14 137.5H263M359.14 137.5H364M461.14 137.5H466M563.14 137.5H568M664.14 137.5H669M766.14 137.5H771M868.14 137.5H873M970.14 137.5H975M1071.14 137.5H1076M1173.14 137.5H1178M1275.14 137.5H1280M1376.14 137.5H1381M1478.14 137.5H1483M1580.14 137.5H1585M1682.14 137.5H1687M1783.14 137.5H1788M258.14 167.5H263M359.14 167.5H364M461.14 167.5H466M563.14 167.5H568M664.14 167.5H669M766.14 167.5H771M868.14 167.5H873M970.14 167.5H975M1071.14 167.5H1076M1173.14 167.5H1178M1275.14 167.5H1280M1376.14 167.5H1381M1478.14 167.5H1483M1580.14 167.5H1585M1682.14 167.5H1687M1783.14 167.5H1788M258.14 212.5H263M359.14 212.5H364M461.14 212.5H466M563.14 212.5H568M664.14 212.5H669M766.14 212.5H771M868.14 212.5H873M970.14 212.5H975M1071.14 212.5H1076M1173.14 212.5H1178M1275.14 212.5H1280M1376.14 212.5H1381M1478.14 212.5H1483M1580.14 212.5H1585M1682.14 212.5H1687M1783.14 212.5H1788M258.14 241.5H263M359.14 241.5H364M461.14 241.5H466M563.14 241.5H568M664.14 241.5H669M766.14 241.5H771M868.14 241.5H873M970.14 241.5H975M1071.14 241.5H1076M1173.14 241.5H1178M1275.14 241.5H1280M1376.14 241.5H1381M1478.14 241.5H1483M1580.14 241.5H1585M1682.14 241.5H1687M1783.14 241.5H1788M258.14 271.5H263M359.14 271.5H364M461.14 271.5H466M563.14 271.5H568M664.14 271.5H669M766.14 271.5H771M868.14 271.5H873M970.14 271.5H975M1071.14 271.5H1076M1173.14 271.5H1178M1275.14 271.5H1280M1376.14 271.5H1381M1478.14 271.5H1483M1580.14 271.5H1585M1682.14 271.5H1687M1783.14 271.5H1788M258.14 316.5H263M359.14 316.5H364M461.14 316.5H466M563.14 316.5H568M664.14 316.5H669M766.14 316.5H771M868.14 316.5H873M970.14 316.5H975M1071.14 316.5H1076M1173.14 316.5H1178M1275.14 316.5H1280M1376.14 316.5H1381M1478.14 316.5H1483M1580.14 316.5H1585M1682.14 316.5H1687M1783.14 316.5H1788M258.14 346.5H263M359.14 346.5H364M461.14 346.5H466M563.14 346.5H568M664.14 346.5H669M766.14 346.5H771M868.14 346.5H873M970.14 346.5H975M1071.14 346.5H1076M1173.14 346.5H1178M1275.14 346.5H1280M1376.14 346.5H1381M1478.14 346.5H1483M1580.14 346.5H1585M1682.14 346.5H1687M1783.14 346.5H1788M258.14 375.5H263M359.14 375.5H364M461.14 375.5H466M563.14 375.5H568M664.14 375.5H669M766.14 375.5H771M868.14 375.5H873M970.14 375.5H975M1071.14 375.5H1076M1173.14 375.5H1178M1275.14 375.5H1280M1376.14 375.5H1381M1478.14 375.5H1483M1580.14 375.5H1585M1682.14 375.5H1687M1783.14 375.5H1788M258.14 420.5H263M359.14 420.5H364M461.14 420.5H466M563.14 420.5H568M664.14 420.5H669M766.14 420.5H771M868.14 420.5H873M970.14 420.5H975M1071.14 420.5H1076M1173.14 420.5H1178M1275.14 420.5H1280M1376.14 420.5H1381M1478.14 420.5H1483M1580.14 420.5H1585M1682.14 420.5H1687M1783.14 420.5H1788M258.14 450.5H263M359.14 450.5H364M461.14 450.5H466M563.14 450.5H568M664.14 450.5H669M766.14 450.5H771M868.14 450.5H873M970.14 450.5H975M1071.14 450.5H1076M1173.14 450.5H1178M1275.14 450.5H1280M1376.14 450.5H1381M1478.14 450.5H1483M1580.14 450.5H1585M1682.14 450.5H1687M1783.14 450.5H1788M258.14 480.5H263M359.14 480.5H364M461.14 480.5H466M563.14 480.5H568M664.14 480.5H669M766.14 480.5H771M868.14 480.5H873M970.14 480.5H975M1071.14 480.5H1076M1173.14 480.5H1178M1275.14 480.5H1280M1376.14 480.5H1381M1478.14 480.5H1483M1580.14 480.5H1585M1682.14 480.5H1687M1783.14 480.5H1788M258.14 524.5H263M359.14 524.5H364M461.14 524.5H466M563.14 524.5H568M664.14 524.5H669M766.14 524.5H771M868.14 524.5H873M970.14 524.5H975M1071.14 524.5H1076M1173.14 524.5H1178M1275.14 524.5H1280M1376.14 524.5H1381M1478.14 524.5H1483M1580.14 524.5H1585M1682.14 524.5H1687M1783.14 524.5H1788M258.14 554.5H263M359.14 554.5H364M461.14 554.5H466M563.14 554.5H568M664.14 554.5H669M766.14 554.5H771M868.14 554.5H873M970.14 554.5H975M1071.14 554.5H1076M1173.14 554.5H1178M1275.14 554.5H1280M1376.14 554.5H1381M1478.14 554.5H1483M1580.14 554.5H1585M1682.14 554.5H1687M1783.14 554.5H1788M258.14 584.5H263M359.14 584.5H364M461.14 584.5H466M563.14 584.5H568M664.14 584.5H669M766.14 584.5H771M868.14 584.5H873M970.14 584.5H975M1071.14 584.5H1076M1173.14 584.5H1178M1275.14 584.5H1280M1376.14 584.5H1381M1478.14 584.5H1483M1580.14 584.5H1585M1682.14 584.5H1687M1783.14 584.5H1788M258.14 629.5H263M359.14 629.5H364M461.14 629.5H466M563.14 629.5H568M664.14 629.5H669M766.14 629.5H771M868.14 629.5H873M970.14 629.5H975M1071.14 629.5H1076M1173.14 629.5H1178M1275.14 629.5H1280M1376.14 629.5H1381M1478.14 629.5H1483M1580.14 629.5H1585M1682.14 629.5H1687M1783.14 629.5H1788M258.14 658.5H263M359.14 658.5H364M461.14 658.5H466M563.14 658.5H568M664.14 658.5H669M766.14 658.5H771M868.14 658.5H873M970.14 658.5H975M1071.14 658.5H1076M1173.14 658.5H1178M1275.14 658.5H1280M1376.14 658.5H1381M1478.14 658.5H1483M1580.14 658.5H1585M1682.14 658.5H1687M1783.14 658.5H1788M258.14 688.5H263M359.14 688.5H364M461.14 688.5H466M563.14 688.5H568M664.14 688.5H669M766.14 688.5H771M868.14 688.5H873M970.14 688.5H975M1071.14 688.5H1076M1173.14 688.5H1178M1275.14 688.5H1280M1376.14 688.5H1381M1478.14 688.5H1483M1580.14 688.5H1585M1682.14 688.5H1687M1783.14 688.5H1788" stroke="#000" stroke-width="1.11" fill="none"/><g font-family="Liberation Sans, sans-serif" fill="#000" text-rendering="geometricPrecision"><text x="251" y="113" text-anchor="end" font-size="14.1" textLength="24.2" lengthAdjust="spacingAndGlyphs">750</text><text x="251" y="143" text-anchor="end" font-size="14.1" textLength="24.2" lengthAdjust="spacingAndGlyphs">500</text><text x="251" y="172" text-anchor="end" font-size="14.1" textLength="24.2" lengthAdjust="spacingAndGlyphs">250</text><text x="251" y="218" text-anchor="end" font-size="14.1" textLength="24.2" lengthAdjust="spacingAndGlyphs">750</text><text x="251" y="247" text-anchor="end" font-size="14.1" textLength="24.2" lengthAdjust="spacingAndGlyphs">500</text><text x="251" y="276" text-anchor="end" font-size="14.1" textLength="24.2" lengthAdjust="spacingAndGlyphs">250</text><text x="251" y="322" text-anchor="end" font-size="14.1" textLength="24.2" lengthAdjust="spacingAndGlyphs">750</text><text x="251" y="352" text-anchor="end" font-size="14.1" textLength="24.2" lengthAdjust="spacingAndGlyphs">500</text><text x="251" y="380" text-anchor="end" font-size="14.1" textLength="24.2" lengthAdjust="spacingAndGlyphs">250</text><text x="251" y="426" text-anchor="end" font-size="14.1" textLength="24.2" lengthAdjust="spacingAndGlyphs">750</text><text x="251" y="456" text-anchor="end" font-size="14.1" textLength="24.2" lengthAdjust="spacingAndGlyphs">500</text><text x="251" y="485" text-anchor="end" font-size="14.1" textLength="24.2" lengthAdjust="spacingAndGlyphs">250</text><text x="251" y="530" text-anchor="end" font-size="14.1" textLength="24.2" lengthAdjust="spacingAndGlyphs">750</text><text x="251" y="560" text-anchor="end" font-size="14.1" textLength="24.2" lengthAdjust="spacingAndGlyphs">500</text><text x="251" y="589" text-anchor="end" font-size="14.1" textLength="24.2" lengthAdjust="spacingAndGlyphs">250</text><text x="251" y="635" text-anchor="end" font-size="14.1" textLength="24.2" lengthAdjust="spacingAndGlyphs">750</text><text x="251" y="664" text-anchor="end" font-size="14.1" textLength="24.2" lengthAdjust="spacingAndGlyphs">500</text><text x="251" y="693" text-anchor="end" font-size="14.1" textLength="24.2" lengthAdjust="spacingAndGlyphs">250</text><text x="261.5" y="728" text-anchor="middle" font-size="14.1" textLength="16.8" lengthAdjust="spacingAndGlyphs">00</text><text x="362.5" y="728" text-anchor="middle" font-size="14.1" textLength="16.8" lengthAdjust="spacingAndGlyphs">15</text><text x="464.5" y="728" text-anchor="middle" font-size="14.1" textLength="16.8" lengthAdjust="spacingAndGlyphs">30</text><text x="566.5" y="728" text-anchor="middle" font-size="14.1" textLength="16.8" lengthAdjust="spacingAndGlyphs">45</text><text x="667.5" y="728" text-anchor="middle" font-size="14.1" textLength="16.8" lengthAdjust="spacingAndGlyphs">00</text><text x="769.5" y="728" text-anchor="middle" font-size="14.1" textLength="16.8" lengthAdjust="spacingAndGlyphs">15</text><text x="871.5" y="728" text-anchor="middle" font-size="14.1" textLength="16.8" lengthAdjust="spacingAndGlyphs">30</text><text x="973.5" y="728" text-anchor="middle" font-size="14.1" textLength="16.8" lengthAdjust="spacingAndGlyphs">45</text><text x="1074.5" y="728" text-anchor="middle" font-size="14.1" textLength="16.8" lengthAdjust="spacingAndGlyphs">00</text><text x="1176.5" y="728" text-anchor="middle" font-size="14.1" textLength="16.8" lengthAdjust="spacingAndGlyphs">15</text><text x="1278.5" y="728" text-anchor="middle" font-size="14.1" textLength="16.8" lengthAdjust="spacingAndGlyphs">30</text><text x="1379.5" y="728" text-anchor="middle" font-size="14.1" textLength="16.8" lengthAdjust="spacingAndGlyphs">45</text><text x="1481.5" y="728" text-anchor="middle" font-size="14.1" textLength="16.8" lengthAdjust="spacingAndGlyphs">00</text><text x="1583.5" y="728" text-anchor="middle" font-size="14.1" textLength="16.8" lengthAdjust="spacingAndGlyphs">15</text><text x="1685.5" y="728" text-anchor="middle" font-size="14.1" textLength="16.8" lengthAdjust="spacingAndGlyphs">30</text><text x="1786.5" y="728" text-anchor="middle" font-size="14.1" textLength="16.8" lengthAdjust="spacingAndGlyphs">45</text><text x="1049.5" y="33.85" text-anchor="middle" font-size="24.5" textLength="685" lengthAdjust="spacingAndGlyphs">Full day spectra 2026/01/30 station: MRO with focus-code: 59</text><text x="1911.7" y="133.6" font-size="22.6" textLength="87.2" lengthAdjust="spacingAndGlyphs">00-03UT</text><text x="1911.7" y="237.6" font-size="22.6" textLength="87.2" lengthAdjust="spacingAndGlyphs">04-07UT</text><text x="1911.7" y="341.6" font-size="22.6" textLength="87.2" lengthAdjust="spacingAndGlyphs">08-11UT</text><text x="1911.7" y="445.6" font-size="22.6" textLength="87.2" lengthAdjust="spacingAndGlyphs">12-15UT</text><text x="1911.7" y="549.6" font-size="22.6" textLength="87.2" lengthAdjust="spacingAndGlyphs">16-19UT</text><text x="1911.7" y="653.6" font-size="22.6" textLength="87.2" lengthAdjust="spacingAndGlyphs">20-23UT</text><text x="0" y="0" transform="translate(215,400.5) rotate(-90)" text-anchor="middle" font-size="22.2" textLength="173" lengthAdjust="spacingAndGlyphs">Frequency [MHz]</text></g></svg>
</body></html>
